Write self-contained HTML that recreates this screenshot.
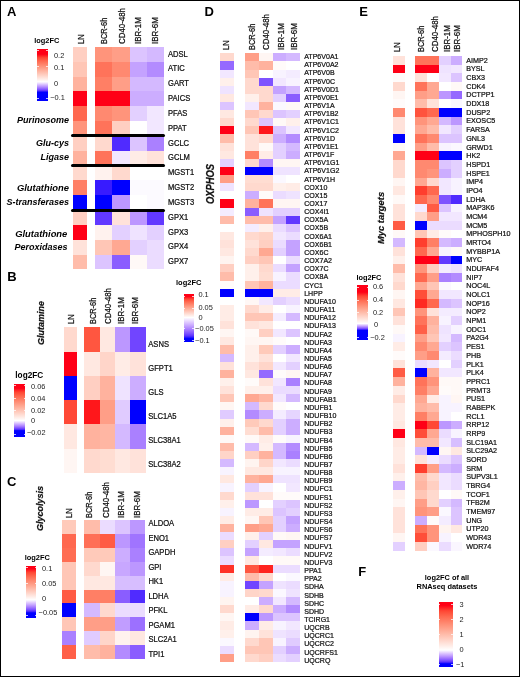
<!DOCTYPE html>
<html><head><meta charset="utf-8"><style>
html,body{margin:0;padding:0;background:#fff;}
body{width:520px;height:677px;position:relative;overflow:hidden;font-family:"Liberation Sans", sans-serif;}
.t{position:absolute;white-space:nowrap;color:#111;-webkit-text-stroke:0.22px #111;}
i{position:absolute;display:block;}
#txt{position:absolute;left:0;top:0;width:520px;height:677px;will-change:transform;}
#frame{position:absolute;left:0;top:0;width:518px;height:675px;border:1px solid #000;}
</style></head><body>
<i style="left:73px;top:47px;width:14px;height:15px;background:#ffcfc2;"></i><i style="left:95px;top:47px;width:17px;height:15px;background:#ff947b;"></i><i style="left:112px;top:47px;width:18px;height:15px;background:#ff9e87;"></i><i style="left:130px;top:47px;width:17px;height:15px;background:#dcc4ff;"></i><i style="left:147px;top:47px;width:17px;height:15px;background:#d4b9ff;"></i><i style="left:73px;top:62px;width:14px;height:15px;background:#ffc6b6;"></i><i style="left:95px;top:62px;width:17px;height:15px;background:#ff735a;"></i><i style="left:112px;top:62px;width:18px;height:15px;background:#ff8970;"></i><i style="left:130px;top:62px;width:17px;height:15px;background:#c4a2ff;"></i><i style="left:147px;top:62px;width:17px;height:15px;background:#b38bff;"></i><i style="left:73px;top:77px;width:14px;height:14px;background:#ffb29e;"></i><i style="left:95px;top:77px;width:17px;height:14px;background:#ff7f65;"></i><i style="left:112px;top:77px;width:18px;height:14px;background:#ff9e87;"></i><i style="left:130px;top:77px;width:17px;height:14px;background:#d4b9ff;"></i><i style="left:147px;top:77px;width:17px;height:14px;background:#d4b9ff;"></i><i style="left:73px;top:91px;width:14px;height:15px;background:#ff0016;"></i><i style="left:95px;top:91px;width:17px;height:15px;background:#ff0016;"></i><i style="left:112px;top:91px;width:18px;height:15px;background:#ff0016;"></i><i style="left:130px;top:91px;width:17px;height:15px;background:#ccadff;"></i><i style="left:147px;top:91px;width:17px;height:15px;background:#ccadff;"></i><i style="left:73px;top:106px;width:14px;height:15px;background:#ff684f;"></i><i style="left:95px;top:106px;width:17px;height:15px;background:#ff8970;"></i><i style="left:112px;top:106px;width:18px;height:15px;background:#ff947b;"></i><i style="left:130px;top:106px;width:17px;height:15px;background:#e3d0ff;"></i><i style="left:147px;top:106px;width:17px;height:15px;background:#f2e7ff;"></i><i style="left:73px;top:121px;width:14px;height:15px;background:#ff947b;"></i><i style="left:95px;top:121px;width:17px;height:15px;background:#ff735a;"></i><i style="left:112px;top:121px;width:18px;height:15px;background:#ffcfc2;"></i><i style="left:130px;top:121px;width:17px;height:15px;background:#ffffff;"></i><i style="left:147px;top:121px;width:17px;height:15px;background:#f2e7ff;"></i><i style="left:73px;top:136px;width:14px;height:15px;background:#ffcfc2;"></i><i style="left:95px;top:136px;width:17px;height:15px;background:#ffd9ce;"></i><i style="left:112px;top:136px;width:18px;height:15px;background:#502bff;"></i><i style="left:130px;top:136px;width:17px;height:15px;background:#dcc4ff;"></i><i style="left:147px;top:136px;width:17px;height:15px;background:#aa80ff;"></i><i style="left:73px;top:151px;width:14px;height:15px;background:#ffb29e;"></i><i style="left:95px;top:151px;width:17px;height:15px;background:#ff735a;"></i><i style="left:112px;top:151px;width:18px;height:15px;background:#f2e7ff;"></i><i style="left:130px;top:151px;width:17px;height:15px;background:#ffece6;"></i><i style="left:147px;top:151px;width:17px;height:15px;background:#ffe2da;"></i><i style="left:73px;top:166px;width:14px;height:14px;background:#ffd9ce;"></i><i style="left:95px;top:166px;width:17px;height:14px;background:#fff2ee;"></i><i style="left:112px;top:166px;width:18px;height:14px;background:#ffd9ce;"></i><i style="left:130px;top:166px;width:17px;height:14px;background:#ffffff;"></i><i style="left:147px;top:166px;width:17px;height:14px;background:#ffffff;"></i><i style="left:73px;top:180px;width:14px;height:15px;background:#ff7f65;"></i><i style="left:95px;top:180px;width:17px;height:15px;background:#381bff;"></i><i style="left:112px;top:180px;width:18px;height:15px;background:#0000ff;"></i><i style="left:130px;top:180px;width:17px;height:15px;background:#fcfaff;"></i><i style="left:147px;top:180px;width:17px;height:15px;background:#fcfaff;"></i><i style="left:73px;top:195px;width:14px;height:15px;background:#0000ff;"></i><i style="left:95px;top:195px;width:17px;height:15px;background:#0000ff;"></i><i style="left:112px;top:195px;width:18px;height:15px;background:#bc97ff;"></i><i style="left:130px;top:195px;width:17px;height:15px;background:#ffffff;"></i><i style="left:147px;top:195px;width:17px;height:15px;background:#fcfaff;"></i><i style="left:73px;top:210px;width:14px;height:15px;background:#ffcfc2;"></i><i style="left:95px;top:210px;width:17px;height:15px;background:#6239ff;"></i><i style="left:112px;top:210px;width:18px;height:15px;background:#ffe2da;"></i><i style="left:130px;top:210px;width:17px;height:15px;background:#bc97ff;"></i><i style="left:147px;top:210px;width:17px;height:15px;background:#6239ff;"></i><i style="left:73px;top:225px;width:14px;height:15px;background:#ff0016;"></i><i style="left:95px;top:225px;width:17px;height:15px;background:#fff2ee;"></i><i style="left:112px;top:225px;width:18px;height:15px;background:#e3d0ff;"></i><i style="left:130px;top:225px;width:17px;height:15px;background:#efe3ff;"></i><i style="left:147px;top:225px;width:17px;height:15px;background:#e3d0ff;"></i><i style="left:73px;top:240px;width:14px;height:15px;background:#ffe2da;"></i><i style="left:95px;top:240px;width:17px;height:15px;background:#ffc6b6;"></i><i style="left:112px;top:240px;width:18px;height:15px;background:#ffa892;"></i><i style="left:130px;top:240px;width:17px;height:15px;background:#e3d0ff;"></i><i style="left:147px;top:240px;width:17px;height:15px;background:#ebdcff;"></i><i style="left:73px;top:255px;width:14px;height:14px;background:#ffbcaa;"></i><i style="left:95px;top:255px;width:17px;height:14px;background:#dcc4ff;"></i><i style="left:112px;top:255px;width:18px;height:14px;background:#8a5dff;"></i><i style="left:130px;top:255px;width:17px;height:14px;background:#fff9f7;"></i><i style="left:147px;top:255px;width:17px;height:14px;background:#ebdcff;"></i><i style="left:71px;top:134px;width:94px;height:3px;background:#000;border-radius:1.5px"></i><i style="left:71px;top:164px;width:94px;height:3px;background:#000;border-radius:1.5px"></i><i style="left:71px;top:209px;width:94px;height:3px;background:#000;border-radius:1.5px"></i><i style="left:37.00px;top:49.00px;width:11.00px;height:52.00px;background:linear-gradient(to bottom,#ff0016 0.0%,#ff0016 10.0%,#ff4633 16.6%,#ff684f 23.2%,#ff846b 29.9%,#ff9e87 36.5%,#ffb7a4 43.1%,#ffcfc2 49.8%,#ffe7e0 56.4%,#ffffff 63.0%,#eee2ff 65.5%,#dcc4ff 68.0%,#c8a8ff 70.5%,#b38bff 73.0%,#9b6fff 75.5%,#7e52ff 78.0%,#5932ff 80.5%,#0000ff 83.0%,#0000ff 100.0%)"></i><i style="left:37.00px;top:50.00px;width:1.6px;height:1px;background:rgba(255,255,255,.75)"></i><i style="left:46.40px;top:50.00px;width:1.6px;height:1px;background:rgba(255,255,255,.75)"></i><i style="left:37.00px;top:66.10px;width:1.6px;height:1px;background:rgba(255,255,255,.75)"></i><i style="left:46.40px;top:66.10px;width:1.6px;height:1px;background:rgba(255,255,255,.75)"></i><i style="left:37.00px;top:98.20px;width:1.6px;height:1px;background:rgba(255,255,255,.75)"></i><i style="left:46.40px;top:98.20px;width:1.6px;height:1px;background:rgba(255,255,255,.75)"></i><i style="left:64px;top:327px;width:13px;height:25px;background:#ffd9ce;"></i><i style="left:84px;top:327px;width:16px;height:25px;background:#ff5640;"></i><i style="left:100px;top:327px;width:15px;height:25px;background:#ffe8e1;"></i><i style="left:115px;top:327px;width:15px;height:25px;background:#bc97ff;"></i><i style="left:130px;top:327px;width:16px;height:25px;background:#7145ff;"></i><i style="left:64px;top:352px;width:13px;height:24px;background:#ff0016;"></i><i style="left:84px;top:352px;width:16px;height:24px;background:#ffe8e1;"></i><i style="left:100px;top:352px;width:15px;height:24px;background:#ffd5c9;"></i><i style="left:115px;top:352px;width:15px;height:24px;background:#ffece6;"></i><i style="left:130px;top:352px;width:16px;height:24px;background:#ffe2da;"></i><i style="left:64px;top:376px;width:13px;height:24px;background:#0000ff;"></i><i style="left:84px;top:376px;width:16px;height:24px;background:#ffcfc2;"></i><i style="left:100px;top:376px;width:15px;height:24px;background:#ffb29e;"></i><i style="left:115px;top:376px;width:15px;height:24px;background:#efe3ff;"></i><i style="left:130px;top:376px;width:16px;height:24px;background:#ccadff;"></i><i style="left:64px;top:400px;width:13px;height:24px;background:#ff4835;"></i><i style="left:84px;top:400px;width:16px;height:24px;background:#ff171b;"></i><i style="left:100px;top:400px;width:15px;height:24px;background:#ff9e87;"></i><i style="left:115px;top:400px;width:15px;height:24px;background:#e0cbff;"></i><i style="left:130px;top:400px;width:16px;height:24px;background:#0000ff;"></i><i style="left:64px;top:424px;width:13px;height:25px;background:#ffe8e1;"></i><i style="left:84px;top:424px;width:16px;height:25px;background:#ffb29e;"></i><i style="left:100px;top:424px;width:15px;height:25px;background:#ffb6a3;"></i><i style="left:115px;top:424px;width:15px;height:25px;background:#d4b9ff;"></i><i style="left:130px;top:424px;width:16px;height:25px;background:#aa80ff;"></i><i style="left:64px;top:449px;width:13px;height:24px;background:#fff6f3;"></i><i style="left:84px;top:449px;width:16px;height:24px;background:#ffd9ce;"></i><i style="left:100px;top:449px;width:15px;height:24px;background:#ffddd2;"></i><i style="left:115px;top:449px;width:15px;height:24px;background:#ffe8e1;"></i><i style="left:130px;top:449px;width:16px;height:24px;background:#ffe2da;"></i><i style="left:14.40px;top:384.10px;width:10.80px;height:52.50px;background:linear-gradient(to bottom,#ff0016 0.0%,#ff0016 8.0%,#ff4633 15.6%,#ff684f 23.2%,#ff846b 30.9%,#ff9e87 38.5%,#ffb7a4 46.1%,#ffcfc2 53.8%,#ffe7e0 61.4%,#ffffff 69.0%,#eee2ff 71.4%,#dcc4ff 73.8%,#c8a8ff 76.1%,#b38bff 78.5%,#9b6fff 80.9%,#7e52ff 83.2%,#5932ff 85.6%,#0000ff 88.0%,#0000ff 100.0%)"></i><i style="left:14.40px;top:385.40px;width:1.6px;height:1px;background:rgba(255,255,255,.75)"></i><i style="left:23.60px;top:385.40px;width:1.6px;height:1px;background:rgba(255,255,255,.75)"></i><i style="left:14.40px;top:397.50px;width:1.6px;height:1px;background:rgba(255,255,255,.75)"></i><i style="left:23.60px;top:397.50px;width:1.6px;height:1px;background:rgba(255,255,255,.75)"></i><i style="left:14.40px;top:409.50px;width:1.6px;height:1px;background:rgba(255,255,255,.75)"></i><i style="left:23.60px;top:409.50px;width:1.6px;height:1px;background:rgba(255,255,255,.75)"></i><i style="left:14.40px;top:433.80px;width:1.6px;height:1px;background:rgba(255,255,255,.75)"></i><i style="left:23.60px;top:433.80px;width:1.6px;height:1px;background:rgba(255,255,255,.75)"></i><i style="left:62px;top:520px;width:14px;height:14px;background:#ffcaba;"></i><i style="left:84px;top:520px;width:16px;height:14px;background:#ffbcaa;"></i><i style="left:100px;top:520px;width:15px;height:14px;background:#ebdcff;"></i><i style="left:115px;top:520px;width:15px;height:14px;background:#dcc4ff;"></i><i style="left:130px;top:520px;width:15px;height:14px;background:#bc97ff;"></i><i style="left:62px;top:534px;width:14px;height:14px;background:#ff684f;"></i><i style="left:84px;top:534px;width:16px;height:14px;background:#ff6f56;"></i><i style="left:100px;top:534px;width:15px;height:14px;background:#ff5b44;"></i><i style="left:115px;top:534px;width:15px;height:14px;background:#bc97ff;"></i><i style="left:130px;top:534px;width:15px;height:14px;background:#a074ff;"></i><i style="left:62px;top:548px;width:14px;height:14px;background:#ff6d53;"></i><i style="left:84px;top:548px;width:16px;height:14px;background:#ffcaba;"></i><i style="left:100px;top:548px;width:15px;height:14px;background:#ffcaba;"></i><i style="left:115px;top:548px;width:15px;height:14px;background:#ccadff;"></i><i style="left:130px;top:548px;width:15px;height:14px;background:#aa80ff;"></i><i style="left:62px;top:562px;width:14px;height:14px;background:#ffc6b6;"></i><i style="left:84px;top:562px;width:16px;height:14px;background:#ffd9ce;"></i><i style="left:100px;top:562px;width:15px;height:14px;background:#fff6f3;"></i><i style="left:115px;top:562px;width:15px;height:14px;background:#c8a7ff;"></i><i style="left:130px;top:562px;width:15px;height:14px;background:#bc97ff;"></i><i style="left:62px;top:576px;width:14px;height:14px;background:#ffc6b6;"></i><i style="left:84px;top:576px;width:16px;height:14px;background:#ffe8e1;"></i><i style="left:100px;top:576px;width:15px;height:14px;background:#ffe8e1;"></i><i style="left:115px;top:576px;width:15px;height:14px;background:#d7beff;"></i><i style="left:130px;top:576px;width:15px;height:14px;background:#d7beff;"></i><i style="left:62px;top:590px;width:14px;height:13px;background:#ff5b44;"></i><i style="left:84px;top:590px;width:16px;height:13px;background:#ff7f65;"></i><i style="left:100px;top:590px;width:15px;height:13px;background:#ff7f65;"></i><i style="left:115px;top:590px;width:15px;height:13px;background:#8a5dff;"></i><i style="left:130px;top:590px;width:15px;height:13px;background:#502bff;"></i><i style="left:62px;top:603px;width:14px;height:14px;background:#0000ff;"></i><i style="left:84px;top:603px;width:16px;height:14px;background:#d4b9ff;"></i><i style="left:100px;top:603px;width:15px;height:14px;background:#ffd9ce;"></i><i style="left:115px;top:603px;width:15px;height:14px;background:#ebdcff;"></i><i style="left:130px;top:603px;width:15px;height:14px;background:#ebdcff;"></i><i style="left:62px;top:617px;width:14px;height:14px;background:#ffc6b6;"></i><i style="left:84px;top:617px;width:16px;height:14px;background:#ff9e87;"></i><i style="left:100px;top:617px;width:15px;height:14px;background:#ff9e87;"></i><i style="left:115px;top:617px;width:15px;height:14px;background:#c19dff;"></i><i style="left:130px;top:617px;width:15px;height:14px;background:#9c70ff;"></i><i style="left:62px;top:631px;width:14px;height:14px;background:#aa80ff;"></i><i style="left:84px;top:631px;width:16px;height:14px;background:#e0cbff;"></i><i style="left:100px;top:631px;width:15px;height:14px;background:#ffd5c9;"></i><i style="left:115px;top:631px;width:15px;height:14px;background:#fff2ee;"></i><i style="left:130px;top:631px;width:15px;height:14px;background:#ffe8e1;"></i><i style="left:62px;top:645px;width:14px;height:14px;background:#ff6048;"></i><i style="left:84px;top:645px;width:16px;height:14px;background:#ffbcaa;"></i><i style="left:100px;top:645px;width:15px;height:14px;background:#ffb29e;"></i><i style="left:115px;top:645px;width:15px;height:14px;background:#b38bff;"></i><i style="left:130px;top:645px;width:15px;height:14px;background:#8a5dff;"></i><i style="left:26.20px;top:565.50px;width:10.10px;height:52.20px;background:linear-gradient(to bottom,#ff0016 0.0%,#ff0016 5.0%,#ff4633 12.5%,#ff684f 20.0%,#ff846b 27.5%,#ff9e87 35.0%,#ffb7a4 42.5%,#ffcfc2 50.0%,#ffe7e0 57.5%,#ffffff 65.0%,#eee2ff 68.1%,#dcc4ff 71.2%,#c8a8ff 74.4%,#b38bff 77.5%,#9b6fff 80.6%,#7e52ff 83.8%,#5932ff 86.9%,#0000ff 90.0%,#0000ff 100.0%)"></i><i style="left:26.20px;top:566.70px;width:1.6px;height:1px;background:rgba(255,255,255,.75)"></i><i style="left:34.70px;top:566.70px;width:1.6px;height:1px;background:rgba(255,255,255,.75)"></i><i style="left:26.20px;top:582.90px;width:1.6px;height:1px;background:rgba(255,255,255,.75)"></i><i style="left:34.70px;top:582.90px;width:1.6px;height:1px;background:rgba(255,255,255,.75)"></i><i style="left:26.20px;top:614.50px;width:1.6px;height:1px;background:rgba(255,255,255,.75)"></i><i style="left:34.70px;top:614.50px;width:1.6px;height:1px;background:rgba(255,255,255,.75)"></i><i style="left:220px;top:53px;width:14px;height:8px;background:#ffd9ce;"></i><i style="left:245px;top:53px;width:14px;height:8px;background:#ff9e87;"></i><i style="left:259px;top:53px;width:14px;height:8px;background:#fff6f3;"></i><i style="left:273px;top:53px;width:13px;height:8px;background:#ccadff;"></i><i style="left:286px;top:53px;width:14px;height:8px;background:#d4b9ff;"></i><i style="left:220px;top:61px;width:14px;height:9px;background:#9569ff;"></i><i style="left:245px;top:61px;width:14px;height:9px;background:#ffbcaa;"></i><i style="left:259px;top:61px;width:14px;height:9px;background:#ffb29e;"></i><i style="left:273px;top:61px;width:13px;height:9px;background:#fffbfa;"></i><i style="left:286px;top:61px;width:14px;height:9px;background:#ffffff;"></i><i style="left:220px;top:70px;width:14px;height:8px;background:#f2e7ff;"></i><i style="left:245px;top:70px;width:14px;height:8px;background:#ffc6b6;"></i><i style="left:259px;top:70px;width:14px;height:8px;background:#ffffff;"></i><i style="left:273px;top:70px;width:13px;height:8px;background:#f8f3ff;"></i><i style="left:286px;top:70px;width:14px;height:8px;background:#f4ecff;"></i><i style="left:220px;top:78px;width:14px;height:8px;background:#fff0eb;"></i><i style="left:245px;top:78px;width:14px;height:8px;background:#ffd9ce;"></i><i style="left:259px;top:78px;width:14px;height:8px;background:#7e52ff;"></i><i style="left:273px;top:78px;width:13px;height:8px;background:#f2e7ff;"></i><i style="left:286px;top:78px;width:14px;height:8px;background:#f8f3ff;"></i><i style="left:220px;top:86px;width:14px;height:8px;background:#efe3ff;"></i><i style="left:245px;top:86px;width:14px;height:8px;background:#ffd9ce;"></i><i style="left:259px;top:86px;width:14px;height:8px;background:#ffd9ce;"></i><i style="left:273px;top:86px;width:13px;height:8px;background:#c4a2ff;"></i><i style="left:286px;top:86px;width:14px;height:8px;background:#d4b9ff;"></i><i style="left:220px;top:94px;width:14px;height:8px;background:#ffe8e1;"></i><i style="left:245px;top:94px;width:14px;height:8px;background:#fff0eb;"></i><i style="left:259px;top:94px;width:14px;height:8px;background:#ffd9ce;"></i><i style="left:273px;top:94px;width:13px;height:8px;background:#e3d0ff;"></i><i style="left:286px;top:94px;width:14px;height:8px;background:#8a5dff;"></i><i style="left:220px;top:102px;width:14px;height:8px;background:#dcc4ff;"></i><i style="left:245px;top:102px;width:14px;height:8px;background:#f2e7ff;"></i><i style="left:259px;top:102px;width:14px;height:8px;background:#ffb29e;"></i><i style="left:273px;top:102px;width:13px;height:8px;background:#fbf8ff;"></i><i style="left:286px;top:102px;width:14px;height:8px;background:#fff9f7;"></i><i style="left:220px;top:110px;width:14px;height:8px;background:#ffe8e1;"></i><i style="left:245px;top:110px;width:14px;height:8px;background:#ffc6b6;"></i><i style="left:259px;top:110px;width:14px;height:8px;background:#ffd9ce;"></i><i style="left:273px;top:110px;width:13px;height:8px;background:#dcc4ff;"></i><i style="left:286px;top:110px;width:14px;height:8px;background:#e3d0ff;"></i><i style="left:220px;top:118px;width:14px;height:8px;background:#ffd9ce;"></i><i style="left:245px;top:118px;width:14px;height:8px;background:#ffd9ce;"></i><i style="left:259px;top:118px;width:14px;height:8px;background:#dcc4ff;"></i><i style="left:273px;top:118px;width:13px;height:8px;background:#fff9f7;"></i><i style="left:286px;top:118px;width:14px;height:8px;background:#fff0eb;"></i><i style="left:220px;top:126px;width:14px;height:8px;background:#ff0016;"></i><i style="left:245px;top:126px;width:14px;height:8px;background:#ffc6b6;"></i><i style="left:259px;top:126px;width:14px;height:8px;background:#ff171b;"></i><i style="left:273px;top:126px;width:13px;height:8px;background:#dcc4ff;"></i><i style="left:286px;top:126px;width:14px;height:8px;background:#f2e7ff;"></i><i style="left:220px;top:134px;width:14px;height:9px;background:#ffbcaa;"></i><i style="left:245px;top:134px;width:14px;height:9px;background:#ffe2da;"></i><i style="left:259px;top:134px;width:14px;height:9px;background:#ffd9ce;"></i><i style="left:273px;top:134px;width:13px;height:9px;background:#ccadff;"></i><i style="left:286px;top:134px;width:14px;height:9px;background:#b38bff;"></i><i style="left:220px;top:143px;width:14px;height:8px;background:#ffe2da;"></i><i style="left:245px;top:143px;width:14px;height:8px;background:#ffe2da;"></i><i style="left:259px;top:143px;width:14px;height:8px;background:#fff9f7;"></i><i style="left:273px;top:143px;width:13px;height:8px;background:#e3d0ff;"></i><i style="left:286px;top:143px;width:14px;height:8px;background:#d4b9ff;"></i><i style="left:220px;top:151px;width:14px;height:8px;background:#ffe8e1;"></i><i style="left:245px;top:151px;width:14px;height:8px;background:#ff7f65;"></i><i style="left:259px;top:151px;width:14px;height:8px;background:#ffece6;"></i><i style="left:273px;top:151px;width:13px;height:8px;background:#e3d0ff;"></i><i style="left:286px;top:151px;width:14px;height:8px;background:#ccadff;"></i><i style="left:220px;top:159px;width:14px;height:8px;background:#e3d0ff;"></i><i style="left:245px;top:159px;width:14px;height:8px;background:#ffd9ce;"></i><i style="left:259px;top:159px;width:14px;height:8px;background:#b38bff;"></i><i style="left:273px;top:159px;width:13px;height:8px;background:#fff6f3;"></i><i style="left:286px;top:159px;width:14px;height:8px;background:#fff6f3;"></i><i style="left:220px;top:167px;width:14px;height:8px;background:#ff0016;"></i><i style="left:245px;top:167px;width:14px;height:8px;background:#0000ff;"></i><i style="left:259px;top:167px;width:14px;height:8px;background:#0000ff;"></i><i style="left:273px;top:167px;width:13px;height:8px;background:#efe3ff;"></i><i style="left:286px;top:167px;width:14px;height:8px;background:#efe3ff;"></i><i style="left:220px;top:175px;width:14px;height:8px;background:#ff9e87;"></i><i style="left:245px;top:175px;width:14px;height:8px;background:#ffddd2;"></i><i style="left:259px;top:175px;width:14px;height:8px;background:#ffddd2;"></i><i style="left:273px;top:175px;width:13px;height:8px;background:#fbf8ff;"></i><i style="left:286px;top:175px;width:14px;height:8px;background:#ffffff;"></i><i style="left:220px;top:183px;width:14px;height:8px;background:#efe3ff;"></i><i style="left:245px;top:183px;width:14px;height:8px;background:#ffd9ce;"></i><i style="left:259px;top:183px;width:14px;height:8px;background:#ffd9ce;"></i><i style="left:273px;top:183px;width:13px;height:8px;background:#fff0eb;"></i><i style="left:286px;top:183px;width:14px;height:8px;background:#ffece6;"></i><i style="left:220px;top:191px;width:14px;height:8px;background:#ffffff;"></i><i style="left:245px;top:191px;width:14px;height:8px;background:#ccadff;"></i><i style="left:259px;top:191px;width:14px;height:8px;background:#fffbfa;"></i><i style="left:273px;top:191px;width:13px;height:8px;background:#ebdcff;"></i><i style="left:286px;top:191px;width:14px;height:8px;background:#efe3ff;"></i><i style="left:220px;top:199px;width:14px;height:9px;background:#ff0016;"></i><i style="left:245px;top:199px;width:14px;height:9px;background:#ffb29e;"></i><i style="left:259px;top:199px;width:14px;height:9px;background:#ff735a;"></i><i style="left:273px;top:199px;width:13px;height:9px;background:#fff6f3;"></i><i style="left:286px;top:199px;width:14px;height:9px;background:#fff6f3;"></i><i style="left:220px;top:208px;width:14px;height:8px;background:#f4ecff;"></i><i style="left:245px;top:208px;width:14px;height:8px;background:#8a5dff;"></i><i style="left:259px;top:208px;width:14px;height:8px;background:#efe3ff;"></i><i style="left:273px;top:208px;width:13px;height:8px;background:#e3d0ff;"></i><i style="left:286px;top:208px;width:14px;height:8px;background:#e3d0ff;"></i><i style="left:220px;top:216px;width:14px;height:8px;background:#ffbcaa;"></i><i style="left:245px;top:216px;width:14px;height:8px;background:#ffbcaa;"></i><i style="left:259px;top:216px;width:14px;height:8px;background:#ffbcaa;"></i><i style="left:273px;top:216px;width:13px;height:8px;background:#c4a2ff;"></i><i style="left:286px;top:216px;width:14px;height:8px;background:#6239ff;"></i><i style="left:220px;top:224px;width:14px;height:8px;background:#ffffff;"></i><i style="left:245px;top:224px;width:14px;height:8px;background:#f4ecff;"></i><i style="left:259px;top:224px;width:14px;height:8px;background:#fff0eb;"></i><i style="left:273px;top:224px;width:13px;height:8px;background:#ebdcff;"></i><i style="left:286px;top:224px;width:14px;height:8px;background:#dcc4ff;"></i><i style="left:220px;top:232px;width:14px;height:8px;background:#ffe8e1;"></i><i style="left:245px;top:232px;width:14px;height:8px;background:#ffd9ce;"></i><i style="left:259px;top:232px;width:14px;height:8px;background:#ffd3c6;"></i><i style="left:273px;top:232px;width:13px;height:8px;background:#f2e7ff;"></i><i style="left:286px;top:232px;width:14px;height:8px;background:#ebdcff;"></i><i style="left:220px;top:240px;width:14px;height:8px;background:#ffe2da;"></i><i style="left:245px;top:240px;width:14px;height:8px;background:#ffe2da;"></i><i style="left:259px;top:240px;width:14px;height:8px;background:#ffcfc2;"></i><i style="left:273px;top:240px;width:13px;height:8px;background:#ebdcff;"></i><i style="left:286px;top:240px;width:14px;height:8px;background:#c4a2ff;"></i><i style="left:220px;top:248px;width:14px;height:8px;background:#ffe8e1;"></i><i style="left:245px;top:248px;width:14px;height:8px;background:#ffd9ce;"></i><i style="left:259px;top:248px;width:14px;height:8px;background:#ffa892;"></i><i style="left:273px;top:248px;width:13px;height:8px;background:#e3d0ff;"></i><i style="left:286px;top:248px;width:14px;height:8px;background:#c4a2ff;"></i><i style="left:220px;top:256px;width:14px;height:8px;background:#fff4f0;"></i><i style="left:245px;top:256px;width:14px;height:8px;background:#ffcfc2;"></i><i style="left:259px;top:256px;width:14px;height:8px;background:#ffc6b6;"></i><i style="left:273px;top:256px;width:13px;height:8px;background:#ffffff;"></i><i style="left:286px;top:256px;width:14px;height:8px;background:#ebdcff;"></i><i style="left:220px;top:264px;width:14px;height:8px;background:#ffcfc2;"></i><i style="left:245px;top:264px;width:14px;height:8px;background:#fff0eb;"></i><i style="left:259px;top:264px;width:14px;height:8px;background:#ffd9ce;"></i><i style="left:273px;top:264px;width:13px;height:8px;background:#ebdcff;"></i><i style="left:286px;top:264px;width:14px;height:8px;background:#c4a2ff;"></i><i style="left:220px;top:272px;width:14px;height:9px;background:#ffbcaa;"></i><i style="left:245px;top:272px;width:14px;height:9px;background:#fff0eb;"></i><i style="left:259px;top:272px;width:14px;height:9px;background:#ffddd2;"></i><i style="left:273px;top:272px;width:13px;height:9px;background:#f8f3ff;"></i><i style="left:286px;top:272px;width:14px;height:9px;background:#ebdcff;"></i><i style="left:220px;top:281px;width:14px;height:8px;background:#fffbfa;"></i><i style="left:245px;top:281px;width:14px;height:8px;background:#ffc6b6;"></i><i style="left:259px;top:281px;width:14px;height:8px;background:#ffb29e;"></i><i style="left:273px;top:281px;width:13px;height:8px;background:#ebdcff;"></i><i style="left:286px;top:281px;width:14px;height:8px;background:#ebdcff;"></i><i style="left:220px;top:289px;width:14px;height:8px;background:#0000ff;"></i><i style="left:245px;top:289px;width:14px;height:8px;background:#0000ff;"></i><i style="left:259px;top:289px;width:14px;height:8px;background:#0000ff;"></i><i style="left:273px;top:289px;width:13px;height:8px;background:#ffece6;"></i><i style="left:286px;top:289px;width:14px;height:8px;background:#ffece6;"></i><i style="left:220px;top:297px;width:14px;height:8px;background:#ffffff;"></i><i style="left:245px;top:297px;width:14px;height:8px;background:#fff7f5;"></i><i style="left:259px;top:297px;width:14px;height:8px;background:#f2e7ff;"></i><i style="left:273px;top:297px;width:13px;height:8px;background:#e3d0ff;"></i><i style="left:286px;top:297px;width:14px;height:8px;background:#ebdcff;"></i><i style="left:220px;top:305px;width:14px;height:8px;background:#ffece6;"></i><i style="left:245px;top:305px;width:14px;height:8px;background:#ffd9ce;"></i><i style="left:259px;top:305px;width:14px;height:8px;background:#ffece6;"></i><i style="left:273px;top:305px;width:13px;height:8px;background:#ffffff;"></i><i style="left:286px;top:305px;width:14px;height:8px;background:#f8f3ff;"></i><i style="left:220px;top:313px;width:14px;height:8px;background:#ffece6;"></i><i style="left:245px;top:313px;width:14px;height:8px;background:#ffc6b6;"></i><i style="left:259px;top:313px;width:14px;height:8px;background:#ffc6b6;"></i><i style="left:273px;top:313px;width:13px;height:8px;background:#f4ecff;"></i><i style="left:286px;top:313px;width:14px;height:8px;background:#d4b9ff;"></i><i style="left:220px;top:321px;width:14px;height:8px;background:#ffe2da;"></i><i style="left:245px;top:321px;width:14px;height:8px;background:#ffe2da;"></i><i style="left:259px;top:321px;width:14px;height:8px;background:#ffe8e1;"></i><i style="left:273px;top:321px;width:13px;height:8px;background:#ffffff;"></i><i style="left:286px;top:321px;width:14px;height:8px;background:#ffffff;"></i><i style="left:220px;top:329px;width:14px;height:8px;background:#fff6f3;"></i><i style="left:245px;top:329px;width:14px;height:8px;background:#fff9f7;"></i><i style="left:259px;top:329px;width:14px;height:8px;background:#ffcfc2;"></i><i style="left:273px;top:329px;width:13px;height:8px;background:#f2e7ff;"></i><i style="left:286px;top:329px;width:14px;height:8px;background:#dcc4ff;"></i><i style="left:220px;top:337px;width:14px;height:8px;background:#ffe8e1;"></i><i style="left:245px;top:337px;width:14px;height:8px;background:#fff6f3;"></i><i style="left:259px;top:337px;width:14px;height:8px;background:#fff6f3;"></i><i style="left:273px;top:337px;width:13px;height:8px;background:#fffbfa;"></i><i style="left:286px;top:337px;width:14px;height:8px;background:#ffffff;"></i><i style="left:220px;top:345px;width:14px;height:9px;background:#ffbcaa;"></i><i style="left:245px;top:345px;width:14px;height:9px;background:#fff0eb;"></i><i style="left:259px;top:345px;width:14px;height:9px;background:#ffcaba;"></i><i style="left:273px;top:345px;width:13px;height:9px;background:#e3d0ff;"></i><i style="left:286px;top:345px;width:14px;height:9px;background:#ccadff;"></i><i style="left:220px;top:354px;width:14px;height:8px;background:#d4b9ff;"></i><i style="left:245px;top:354px;width:14px;height:8px;background:#fff0eb;"></i><i style="left:259px;top:354px;width:14px;height:8px;background:#ffe2da;"></i><i style="left:273px;top:354px;width:13px;height:8px;background:#ffffff;"></i><i style="left:286px;top:354px;width:14px;height:8px;background:#f2e7ff;"></i><i style="left:220px;top:362px;width:14px;height:8px;background:#ffe2da;"></i><i style="left:245px;top:362px;width:14px;height:8px;background:#ffe2da;"></i><i style="left:259px;top:362px;width:14px;height:8px;background:#ffd5c9;"></i><i style="left:273px;top:362px;width:13px;height:8px;background:#f2e7ff;"></i><i style="left:286px;top:362px;width:14px;height:8px;background:#e3d0ff;"></i><i style="left:220px;top:370px;width:14px;height:8px;background:#ffb29e;"></i><i style="left:245px;top:370px;width:14px;height:8px;background:#ffe8e1;"></i><i style="left:259px;top:370px;width:14px;height:8px;background:#9569ff;"></i><i style="left:273px;top:370px;width:13px;height:8px;background:#fffbfa;"></i><i style="left:286px;top:370px;width:14px;height:8px;background:#fff6f3;"></i><i style="left:220px;top:378px;width:14px;height:8px;background:#fff0eb;"></i><i style="left:245px;top:378px;width:14px;height:8px;background:#fffbfa;"></i><i style="left:259px;top:378px;width:14px;height:8px;background:#ffe2da;"></i><i style="left:273px;top:378px;width:13px;height:8px;background:#f2e7ff;"></i><i style="left:286px;top:378px;width:14px;height:8px;background:#aa80ff;"></i><i style="left:220px;top:386px;width:14px;height:8px;background:#ffe2da;"></i><i style="left:245px;top:386px;width:14px;height:8px;background:#fff0eb;"></i><i style="left:259px;top:386px;width:14px;height:8px;background:#fff0eb;"></i><i style="left:273px;top:386px;width:13px;height:8px;background:#ebdcff;"></i><i style="left:286px;top:386px;width:14px;height:8px;background:#ebdcff;"></i><i style="left:220px;top:394px;width:14px;height:8px;background:#ffc6b6;"></i><i style="left:245px;top:394px;width:14px;height:8px;background:#ffa892;"></i><i style="left:259px;top:394px;width:14px;height:8px;background:#ffb6a3;"></i><i style="left:273px;top:394px;width:13px;height:8px;background:#f2e7ff;"></i><i style="left:286px;top:394px;width:14px;height:8px;background:#d4b9ff;"></i><i style="left:220px;top:402px;width:14px;height:8px;background:#fff6f3;"></i><i style="left:245px;top:402px;width:14px;height:8px;background:#d4b9ff;"></i><i style="left:259px;top:402px;width:14px;height:8px;background:#ffd9ce;"></i><i style="left:273px;top:402px;width:13px;height:8px;background:#fffbfa;"></i><i style="left:286px;top:402px;width:14px;height:8px;background:#ffffff;"></i><i style="left:220px;top:410px;width:14px;height:9px;background:#e0cbff;"></i><i style="left:245px;top:410px;width:14px;height:9px;background:#b38bff;"></i><i style="left:259px;top:410px;width:14px;height:9px;background:#ccadff;"></i><i style="left:273px;top:410px;width:13px;height:9px;background:#f4ecff;"></i><i style="left:286px;top:410px;width:14px;height:9px;background:#e6d5ff;"></i><i style="left:220px;top:419px;width:14px;height:8px;background:#fff0eb;"></i><i style="left:245px;top:419px;width:14px;height:8px;background:#ffcaba;"></i><i style="left:259px;top:419px;width:14px;height:8px;background:#ffd9ce;"></i><i style="left:273px;top:419px;width:13px;height:8px;background:#e3d0ff;"></i><i style="left:286px;top:419px;width:14px;height:8px;background:#ccadff;"></i><i style="left:220px;top:427px;width:14px;height:8px;background:#ffb29e;"></i><i style="left:245px;top:427px;width:14px;height:8px;background:#ffddd2;"></i><i style="left:259px;top:427px;width:14px;height:8px;background:#ffbcaa;"></i><i style="left:273px;top:427px;width:13px;height:8px;background:#e3d0ff;"></i><i style="left:286px;top:427px;width:14px;height:8px;background:#ccadff;"></i><i style="left:220px;top:435px;width:14px;height:8px;background:#fff9f7;"></i><i style="left:245px;top:435px;width:14px;height:8px;background:#fff9f7;"></i><i style="left:259px;top:435px;width:14px;height:8px;background:#ffece6;"></i><i style="left:273px;top:435px;width:13px;height:8px;background:#fffbfa;"></i><i style="left:286px;top:435px;width:14px;height:8px;background:#f8f3ff;"></i><i style="left:220px;top:443px;width:14px;height:8px;background:#ffbcaa;"></i><i style="left:245px;top:443px;width:14px;height:8px;background:#d4b9ff;"></i><i style="left:259px;top:443px;width:14px;height:8px;background:#fff0eb;"></i><i style="left:273px;top:443px;width:13px;height:8px;background:#d4b9ff;"></i><i style="left:286px;top:443px;width:14px;height:8px;background:#b38bff;"></i><i style="left:220px;top:451px;width:14px;height:8px;background:#ffd5c9;"></i><i style="left:245px;top:451px;width:14px;height:8px;background:#ffcfc2;"></i><i style="left:259px;top:451px;width:14px;height:8px;background:#ffb29e;"></i><i style="left:273px;top:451px;width:13px;height:8px;background:#d4b9ff;"></i><i style="left:286px;top:451px;width:14px;height:8px;background:#aa80ff;"></i><i style="left:220px;top:459px;width:14px;height:8px;background:#d4b9ff;"></i><i style="left:245px;top:459px;width:14px;height:8px;background:#fff4f0;"></i><i style="left:259px;top:459px;width:14px;height:8px;background:#ffd5c9;"></i><i style="left:273px;top:459px;width:13px;height:8px;background:#f2e7ff;"></i><i style="left:286px;top:459px;width:14px;height:8px;background:#ebdcff;"></i><i style="left:220px;top:467px;width:14px;height:8px;background:#f8f3ff;"></i><i style="left:245px;top:467px;width:14px;height:8px;background:#ffe8e1;"></i><i style="left:259px;top:467px;width:14px;height:8px;background:#ffe8e1;"></i><i style="left:273px;top:467px;width:13px;height:8px;background:#f8f3ff;"></i><i style="left:286px;top:467px;width:14px;height:8px;background:#f8f3ff;"></i><i style="left:220px;top:475px;width:14px;height:8px;background:#ffe8e1;"></i><i style="left:245px;top:475px;width:14px;height:8px;background:#ffb29e;"></i><i style="left:259px;top:475px;width:14px;height:8px;background:#ffa892;"></i><i style="left:273px;top:475px;width:13px;height:8px;background:#efe3ff;"></i><i style="left:286px;top:475px;width:14px;height:8px;background:#efe3ff;"></i><i style="left:220px;top:483px;width:14px;height:9px;background:#f8f3ff;"></i><i style="left:245px;top:483px;width:14px;height:9px;background:#e3d0ff;"></i><i style="left:259px;top:483px;width:14px;height:9px;background:#f8f3ff;"></i><i style="left:273px;top:483px;width:13px;height:9px;background:#ffffff;"></i><i style="left:286px;top:483px;width:14px;height:9px;background:#f2e7ff;"></i><i style="left:220px;top:492px;width:14px;height:8px;background:#ffd9ce;"></i><i style="left:245px;top:492px;width:14px;height:8px;background:#ffe2da;"></i><i style="left:259px;top:492px;width:14px;height:8px;background:#ffe2da;"></i><i style="left:273px;top:492px;width:13px;height:8px;background:#fffbfa;"></i><i style="left:286px;top:492px;width:14px;height:8px;background:#fffbfa;"></i><i style="left:220px;top:500px;width:14px;height:8px;background:#fff0eb;"></i><i style="left:245px;top:500px;width:14px;height:8px;background:#bc97ff;"></i><i style="left:259px;top:500px;width:14px;height:8px;background:#ffffff;"></i><i style="left:273px;top:500px;width:13px;height:8px;background:#e3d0ff;"></i><i style="left:286px;top:500px;width:14px;height:8px;background:#dcc4ff;"></i><i style="left:220px;top:508px;width:14px;height:8px;background:#f8f3ff;"></i><i style="left:245px;top:508px;width:14px;height:8px;background:#ffece6;"></i><i style="left:259px;top:508px;width:14px;height:8px;background:#ffece6;"></i><i style="left:273px;top:508px;width:13px;height:8px;background:#dcc4ff;"></i><i style="left:286px;top:508px;width:14px;height:8px;background:#e3d0ff;"></i><i style="left:220px;top:516px;width:14px;height:8px;background:#ffece6;"></i><i style="left:245px;top:516px;width:14px;height:8px;background:#fff6f3;"></i><i style="left:259px;top:516px;width:14px;height:8px;background:#ffc6b6;"></i><i style="left:273px;top:516px;width:13px;height:8px;background:#e3d0ff;"></i><i style="left:286px;top:516px;width:14px;height:8px;background:#c4a2ff;"></i><i style="left:220px;top:524px;width:14px;height:8px;background:#ffb29e;"></i><i style="left:245px;top:524px;width:14px;height:8px;background:#ff9e87;"></i><i style="left:259px;top:524px;width:14px;height:8px;background:#ffa892;"></i><i style="left:273px;top:524px;width:13px;height:8px;background:#e3d0ff;"></i><i style="left:286px;top:524px;width:14px;height:8px;background:#ccadff;"></i><i style="left:220px;top:532px;width:14px;height:8px;background:#ebdcff;"></i><i style="left:245px;top:532px;width:14px;height:8px;background:#fff0eb;"></i><i style="left:259px;top:532px;width:14px;height:8px;background:#e3d0ff;"></i><i style="left:273px;top:532px;width:13px;height:8px;background:#fff9f7;"></i><i style="left:286px;top:532px;width:14px;height:8px;background:#fff6f3;"></i><i style="left:220px;top:540px;width:14px;height:8px;background:#ffcfc2;"></i><i style="left:245px;top:540px;width:14px;height:8px;background:#e3d0ff;"></i><i style="left:259px;top:540px;width:14px;height:8px;background:#ffe8e1;"></i><i style="left:273px;top:540px;width:13px;height:8px;background:#c4a2ff;"></i><i style="left:286px;top:540px;width:14px;height:8px;background:#c4a2ff;"></i><i style="left:220px;top:548px;width:14px;height:8px;background:#dcc4ff;"></i><i style="left:245px;top:548px;width:14px;height:8px;background:#c4a2ff;"></i><i style="left:259px;top:548px;width:14px;height:8px;background:#f4ecff;"></i><i style="left:273px;top:548px;width:13px;height:8px;background:#f2e7ff;"></i><i style="left:286px;top:548px;width:14px;height:8px;background:#ebdcff;"></i><i style="left:220px;top:556px;width:14px;height:9px;background:#ebdcff;"></i><i style="left:245px;top:556px;width:14px;height:9px;background:#ffe8e1;"></i><i style="left:259px;top:556px;width:14px;height:9px;background:#ffffff;"></i><i style="left:273px;top:556px;width:13px;height:9px;background:#fff9f7;"></i><i style="left:286px;top:556px;width:14px;height:9px;background:#fff9f7;"></i><i style="left:220px;top:565px;width:14px;height:8px;background:#ff3227;"></i><i style="left:245px;top:565px;width:14px;height:8px;background:#ff5640;"></i><i style="left:259px;top:565px;width:14px;height:8px;background:#ff2420;"></i><i style="left:273px;top:565px;width:13px;height:8px;background:#ebdcff;"></i><i style="left:286px;top:565px;width:14px;height:8px;background:#ebdcff;"></i><i style="left:220px;top:573px;width:14px;height:8px;background:#ffece6;"></i><i style="left:245px;top:573px;width:14px;height:8px;background:#ffbcaa;"></i><i style="left:259px;top:573px;width:14px;height:8px;background:#ffd9ce;"></i><i style="left:273px;top:573px;width:13px;height:8px;background:#ffffff;"></i><i style="left:286px;top:573px;width:14px;height:8px;background:#fbf8ff;"></i><i style="left:220px;top:581px;width:14px;height:8px;background:#f8f3ff;"></i><i style="left:245px;top:581px;width:14px;height:8px;background:#7145ff;"></i><i style="left:259px;top:581px;width:14px;height:8px;background:#c4a2ff;"></i><i style="left:273px;top:581px;width:13px;height:8px;background:#efe3ff;"></i><i style="left:286px;top:581px;width:14px;height:8px;background:#ebdcff;"></i><i style="left:220px;top:589px;width:14px;height:8px;background:#f8f3ff;"></i><i style="left:245px;top:589px;width:14px;height:8px;background:#ffd5c9;"></i><i style="left:259px;top:589px;width:14px;height:8px;background:#ffd9ce;"></i><i style="left:273px;top:589px;width:13px;height:8px;background:#fbf8ff;"></i><i style="left:286px;top:589px;width:14px;height:8px;background:#efe3ff;"></i><i style="left:220px;top:597px;width:14px;height:8px;background:#fff4f0;"></i><i style="left:245px;top:597px;width:14px;height:8px;background:#ffffff;"></i><i style="left:259px;top:597px;width:14px;height:8px;background:#ccadff;"></i><i style="left:273px;top:597px;width:13px;height:8px;background:#f2e7ff;"></i><i style="left:286px;top:597px;width:14px;height:8px;background:#d4b9ff;"></i><i style="left:220px;top:605px;width:14px;height:8px;background:#ffd9ce;"></i><i style="left:245px;top:605px;width:14px;height:8px;background:#ffece6;"></i><i style="left:259px;top:605px;width:14px;height:8px;background:#ffd9ce;"></i><i style="left:273px;top:605px;width:13px;height:8px;background:#ccadff;"></i><i style="left:286px;top:605px;width:14px;height:8px;background:#b38bff;"></i><i style="left:220px;top:613px;width:14px;height:8px;background:#fff6f3;"></i><i style="left:245px;top:613px;width:14px;height:8px;background:#0000ff;"></i><i style="left:259px;top:613px;width:14px;height:8px;background:#bc97ff;"></i><i style="left:273px;top:613px;width:13px;height:8px;background:#dcc4ff;"></i><i style="left:286px;top:613px;width:14px;height:8px;background:#dcc4ff;"></i><i style="left:220px;top:621px;width:14px;height:9px;background:#ffece6;"></i><i style="left:245px;top:621px;width:14px;height:9px;background:#ccadff;"></i><i style="left:259px;top:621px;width:14px;height:9px;background:#ffece6;"></i><i style="left:273px;top:621px;width:13px;height:9px;background:#f8f3ff;"></i><i style="left:286px;top:621px;width:14px;height:9px;background:#f2e7ff;"></i><i style="left:220px;top:630px;width:14px;height:8px;background:#fff0eb;"></i><i style="left:245px;top:630px;width:14px;height:8px;background:#fff4f0;"></i><i style="left:259px;top:630px;width:14px;height:8px;background:#ffe2da;"></i><i style="left:273px;top:630px;width:13px;height:8px;background:#efe3ff;"></i><i style="left:286px;top:630px;width:14px;height:8px;background:#ebdcff;"></i><i style="left:220px;top:638px;width:14px;height:8px;background:#fbf8ff;"></i><i style="left:245px;top:638px;width:14px;height:8px;background:#ffd9ce;"></i><i style="left:259px;top:638px;width:14px;height:8px;background:#ffc6b6;"></i><i style="left:273px;top:638px;width:13px;height:8px;background:#f8f3ff;"></i><i style="left:286px;top:638px;width:14px;height:8px;background:#e0cbff;"></i><i style="left:220px;top:646px;width:14px;height:8px;background:#ebdcff;"></i><i style="left:245px;top:646px;width:14px;height:8px;background:#ffc6b6;"></i><i style="left:259px;top:646px;width:14px;height:8px;background:#ffc6b6;"></i><i style="left:273px;top:646px;width:13px;height:8px;background:#e3d0ff;"></i><i style="left:286px;top:646px;width:14px;height:8px;background:#ccadff;"></i><i style="left:220px;top:654px;width:14px;height:8px;background:#ff9e87;"></i><i style="left:245px;top:654px;width:14px;height:8px;background:#ffd9ce;"></i><i style="left:259px;top:654px;width:14px;height:8px;background:#ffcfc2;"></i><i style="left:273px;top:654px;width:13px;height:8px;background:#ebdcff;"></i><i style="left:286px;top:654px;width:14px;height:8px;background:#e3d0ff;"></i><i style="left:183.90px;top:294.20px;width:9.80px;height:48.10px;background:linear-gradient(to bottom,#ff0016 0.0%,#ff0016 5.0%,#ff4633 10.5%,#ff684f 16.0%,#ff846b 21.5%,#ff9e87 27.0%,#ffb7a4 32.5%,#ffcfc2 38.0%,#ffe7e0 43.5%,#ffffff 49.0%,#eee2ff 54.5%,#dcc4ff 60.0%,#c8a8ff 65.5%,#b38bff 71.0%,#9b6fff 76.5%,#7e52ff 82.0%,#5932ff 87.5%,#0000ff 93.0%,#0000ff 100.0%)"></i><i style="left:183.90px;top:295.50px;width:1.6px;height:1px;background:rgba(255,255,255,.75)"></i><i style="left:192.10px;top:295.50px;width:1.6px;height:1px;background:rgba(255,255,255,.75)"></i><i style="left:183.90px;top:307.50px;width:1.6px;height:1px;background:rgba(255,255,255,.75)"></i><i style="left:192.10px;top:307.50px;width:1.6px;height:1px;background:rgba(255,255,255,.75)"></i><i style="left:183.90px;top:328.30px;width:1.6px;height:1px;background:rgba(255,255,255,.75)"></i><i style="left:192.10px;top:328.30px;width:1.6px;height:1px;background:rgba(255,255,255,.75)"></i><i style="left:183.90px;top:340.10px;width:1.6px;height:1px;background:rgba(255,255,255,.75)"></i><i style="left:192.10px;top:340.10px;width:1.6px;height:1px;background:rgba(255,255,255,.75)"></i><i style="left:393px;top:56px;width:12px;height:9px;background:#ffe2da;"></i><i style="left:415px;top:56px;width:12px;height:9px;background:#ff735a;"></i><i style="left:427px;top:56px;width:12px;height:9px;background:#ff735a;"></i><i style="left:439px;top:56px;width:12px;height:9px;background:#e3d0ff;"></i><i style="left:451px;top:56px;width:11px;height:9px;background:#ccadff;"></i><i style="left:393px;top:65px;width:12px;height:8px;background:#ff0016;"></i><i style="left:415px;top:65px;width:12px;height:8px;background:#ff0016;"></i><i style="left:427px;top:65px;width:12px;height:8px;background:#ff0016;"></i><i style="left:439px;top:65px;width:12px;height:8px;background:#efe3ff;"></i><i style="left:451px;top:65px;width:11px;height:8px;background:#f2e7ff;"></i><i style="left:393px;top:73px;width:12px;height:9px;background:#fffbfa;"></i><i style="left:415px;top:73px;width:12px;height:9px;background:#ffe2da;"></i><i style="left:427px;top:73px;width:12px;height:9px;background:#ffffff;"></i><i style="left:439px;top:73px;width:12px;height:9px;background:#f2e7ff;"></i><i style="left:451px;top:73px;width:11px;height:9px;background:#dcc4ff;"></i><i style="left:393px;top:82px;width:12px;height:9px;background:#ffd9ce;"></i><i style="left:415px;top:82px;width:12px;height:9px;background:#ff735a;"></i><i style="left:427px;top:82px;width:12px;height:9px;background:#ffa892;"></i><i style="left:439px;top:82px;width:12px;height:9px;background:#ffffff;"></i><i style="left:451px;top:82px;width:11px;height:9px;background:#fff9f7;"></i><i style="left:393px;top:91px;width:12px;height:8px;background:#fff6f3;"></i><i style="left:415px;top:91px;width:12px;height:8px;background:#ff9e87;"></i><i style="left:427px;top:91px;width:12px;height:8px;background:#ffa892;"></i><i style="left:439px;top:91px;width:12px;height:8px;background:#bc97ff;"></i><i style="left:451px;top:91px;width:11px;height:8px;background:#9569ff;"></i><i style="left:393px;top:99px;width:12px;height:9px;background:#fffbfa;"></i><i style="left:415px;top:99px;width:12px;height:9px;background:#ffbcaa;"></i><i style="left:427px;top:99px;width:12px;height:9px;background:#ffe2da;"></i><i style="left:439px;top:99px;width:12px;height:9px;background:#ffffff;"></i><i style="left:451px;top:99px;width:11px;height:9px;background:#fbf8ff;"></i><i style="left:393px;top:108px;width:12px;height:9px;background:#ff8970;"></i><i style="left:415px;top:108px;width:12px;height:9px;background:#ff533d;"></i><i style="left:427px;top:108px;width:12px;height:9px;background:#ff684f;"></i><i style="left:439px;top:108px;width:12px;height:9px;background:#0000ff;"></i><i style="left:451px;top:108px;width:11px;height:9px;background:#0000ff;"></i><i style="left:393px;top:117px;width:12px;height:8px;background:#ffe2da;"></i><i style="left:415px;top:117px;width:12px;height:8px;background:#ff947b;"></i><i style="left:427px;top:117px;width:12px;height:8px;background:#ffa892;"></i><i style="left:439px;top:117px;width:12px;height:8px;background:#d4b9ff;"></i><i style="left:451px;top:117px;width:11px;height:8px;background:#bc97ff;"></i><i style="left:393px;top:125px;width:12px;height:9px;background:#ffe2da;"></i><i style="left:415px;top:125px;width:12px;height:9px;background:#ffa892;"></i><i style="left:427px;top:125px;width:12px;height:9px;background:#ffbcaa;"></i><i style="left:439px;top:125px;width:12px;height:9px;background:#f2e7ff;"></i><i style="left:451px;top:125px;width:11px;height:9px;background:#e3d0ff;"></i><i style="left:393px;top:134px;width:12px;height:9px;background:#0000ff;"></i><i style="left:415px;top:134px;width:12px;height:9px;background:#ff735a;"></i><i style="left:427px;top:134px;width:12px;height:9px;background:#ff8970;"></i><i style="left:439px;top:134px;width:12px;height:9px;background:#dcc4ff;"></i><i style="left:451px;top:134px;width:11px;height:9px;background:#dcc4ff;"></i><i style="left:393px;top:143px;width:12px;height:8px;background:#fff9f7;"></i><i style="left:415px;top:143px;width:12px;height:8px;background:#ff9e87;"></i><i style="left:427px;top:143px;width:12px;height:8px;background:#ffbcaa;"></i><i style="left:439px;top:143px;width:12px;height:8px;background:#f8f3ff;"></i><i style="left:451px;top:143px;width:11px;height:8px;background:#fbf8ff;"></i><i style="left:393px;top:151px;width:12px;height:9px;background:#ffa892;"></i><i style="left:415px;top:151px;width:12px;height:9px;background:#ff0016;"></i><i style="left:427px;top:151px;width:12px;height:9px;background:#ff0016;"></i><i style="left:439px;top:151px;width:12px;height:9px;background:#0000ff;"></i><i style="left:451px;top:151px;width:11px;height:9px;background:#0000ff;"></i><i style="left:393px;top:160px;width:12px;height:9px;background:#ffd9ce;"></i><i style="left:415px;top:160px;width:12px;height:9px;background:#ff8970;"></i><i style="left:427px;top:160px;width:12px;height:9px;background:#ff8970;"></i><i style="left:439px;top:160px;width:12px;height:9px;background:#dcc4ff;"></i><i style="left:451px;top:160px;width:11px;height:9px;background:#e3d0ff;"></i><i style="left:393px;top:169px;width:12px;height:9px;background:#ffd9ce;"></i><i style="left:415px;top:169px;width:12px;height:9px;background:#ff8970;"></i><i style="left:427px;top:169px;width:12px;height:9px;background:#ff947b;"></i><i style="left:439px;top:169px;width:12px;height:9px;background:#ccadff;"></i><i style="left:451px;top:169px;width:11px;height:9px;background:#e3d0ff;"></i><i style="left:393px;top:178px;width:12px;height:8px;background:#fff6f3;"></i><i style="left:415px;top:178px;width:12px;height:8px;background:#ffa892;"></i><i style="left:427px;top:178px;width:12px;height:8px;background:#ffd9ce;"></i><i style="left:439px;top:178px;width:12px;height:8px;background:#f2e7ff;"></i><i style="left:451px;top:178px;width:11px;height:8px;background:#f8f3ff;"></i><i style="left:393px;top:186px;width:12px;height:9px;background:#ffe8e1;"></i><i style="left:415px;top:186px;width:12px;height:9px;background:#ff3e2e;"></i><i style="left:427px;top:186px;width:12px;height:9px;background:#ff684f;"></i><i style="left:439px;top:186px;width:12px;height:9px;background:#f2e7ff;"></i><i style="left:451px;top:186px;width:11px;height:9px;background:#f8f3ff;"></i><i style="left:393px;top:195px;width:12px;height:9px;background:#fff9f7;"></i><i style="left:415px;top:195px;width:12px;height:9px;background:#ff684f;"></i><i style="left:427px;top:195px;width:12px;height:9px;background:#ff8970;"></i><i style="left:439px;top:195px;width:12px;height:9px;background:#7e52ff;"></i><i style="left:451px;top:195px;width:11px;height:9px;background:#502bff;"></i><i style="left:393px;top:204px;width:12px;height:8px;background:#ffe2da;"></i><i style="left:415px;top:204px;width:12px;height:8px;background:#f4ecff;"></i><i style="left:427px;top:204px;width:12px;height:8px;background:#ff5b44;"></i><i style="left:439px;top:204px;width:12px;height:8px;background:#dcc4ff;"></i><i style="left:451px;top:204px;width:11px;height:8px;background:#f8f3ff;"></i><i style="left:393px;top:212px;width:12px;height:9px;background:#ffe2da;"></i><i style="left:415px;top:212px;width:12px;height:9px;background:#ffd9ce;"></i><i style="left:427px;top:212px;width:12px;height:9px;background:#ff9e87;"></i><i style="left:439px;top:212px;width:12px;height:9px;background:#f2e7ff;"></i><i style="left:451px;top:212px;width:11px;height:9px;background:#f2e7ff;"></i><i style="left:393px;top:221px;width:12px;height:9px;background:#ff5b44;"></i><i style="left:415px;top:221px;width:12px;height:9px;background:#0000ff;"></i><i style="left:427px;top:221px;width:12px;height:9px;background:#ebdcff;"></i><i style="left:439px;top:221px;width:12px;height:9px;background:#ebdcff;"></i><i style="left:451px;top:221px;width:11px;height:9px;background:#ebdcff;"></i><i style="left:393px;top:230px;width:12px;height:8px;background:#fff9f7;"></i><i style="left:415px;top:230px;width:12px;height:8px;background:#ffc6b6;"></i><i style="left:427px;top:230px;width:12px;height:8px;background:#ffece6;"></i><i style="left:439px;top:230px;width:12px;height:8px;background:#fffbfa;"></i><i style="left:451px;top:230px;width:11px;height:8px;background:#ffffff;"></i><i style="left:393px;top:238px;width:12px;height:9px;background:#d4b9ff;"></i><i style="left:415px;top:238px;width:12px;height:9px;background:#ff3e2e;"></i><i style="left:427px;top:238px;width:12px;height:9px;background:#ff7f65;"></i><i style="left:439px;top:238px;width:12px;height:9px;background:#d4b9ff;"></i><i style="left:451px;top:238px;width:11px;height:9px;background:#ccadff;"></i><i style="left:393px;top:247px;width:12px;height:9px;background:#ffe2da;"></i><i style="left:415px;top:247px;width:12px;height:9px;background:#ff684f;"></i><i style="left:427px;top:247px;width:12px;height:9px;background:#ffa892;"></i><i style="left:439px;top:247px;width:12px;height:9px;background:#f8f3ff;"></i><i style="left:451px;top:247px;width:11px;height:9px;background:#fff9f7;"></i><i style="left:393px;top:256px;width:12px;height:8px;background:#fff0eb;"></i><i style="left:415px;top:256px;width:12px;height:8px;background:#ff0016;"></i><i style="left:427px;top:256px;width:12px;height:8px;background:#ff0016;"></i><i style="left:439px;top:256px;width:12px;height:8px;background:#6239ff;"></i><i style="left:451px;top:256px;width:11px;height:8px;background:#0000ff;"></i><i style="left:393px;top:264px;width:12px;height:9px;background:#ffbcaa;"></i><i style="left:415px;top:264px;width:12px;height:9px;background:#ff947b;"></i><i style="left:427px;top:264px;width:12px;height:9px;background:#ffcfc2;"></i><i style="left:439px;top:264px;width:12px;height:9px;background:#f4ecff;"></i><i style="left:451px;top:264px;width:11px;height:9px;background:#efe3ff;"></i><i style="left:393px;top:273px;width:12px;height:9px;background:#ffe2da;"></i><i style="left:415px;top:273px;width:12px;height:9px;background:#ff684f;"></i><i style="left:427px;top:273px;width:12px;height:9px;background:#ff9e87;"></i><i style="left:439px;top:273px;width:12px;height:9px;background:#aa80ff;"></i><i style="left:451px;top:273px;width:11px;height:9px;background:#b38bff;"></i><i style="left:393px;top:282px;width:12px;height:8px;background:#ffd9ce;"></i><i style="left:415px;top:282px;width:12px;height:8px;background:#ffa892;"></i><i style="left:427px;top:282px;width:12px;height:8px;background:#ffc6b6;"></i><i style="left:439px;top:282px;width:12px;height:8px;background:#fbf8ff;"></i><i style="left:451px;top:282px;width:11px;height:8px;background:#ffffff;"></i><i style="left:393px;top:290px;width:12px;height:9px;background:#fff6f3;"></i><i style="left:415px;top:290px;width:12px;height:9px;background:#ff4e39;"></i><i style="left:427px;top:290px;width:12px;height:9px;background:#ffa892;"></i><i style="left:439px;top:290px;width:12px;height:9px;background:#f2e7ff;"></i><i style="left:451px;top:290px;width:11px;height:9px;background:#f2e7ff;"></i><i style="left:393px;top:299px;width:12px;height:9px;background:#ffe8e1;"></i><i style="left:415px;top:299px;width:12px;height:9px;background:#ff2a22;"></i><i style="left:427px;top:299px;width:12px;height:9px;background:#ff684f;"></i><i style="left:439px;top:299px;width:12px;height:9px;background:#d4b9ff;"></i><i style="left:451px;top:299px;width:11px;height:9px;background:#dcc4ff;"></i><i style="left:393px;top:308px;width:12px;height:8px;background:#ffc6b6;"></i><i style="left:415px;top:308px;width:12px;height:8px;background:#ff947b;"></i><i style="left:427px;top:308px;width:12px;height:8px;background:#ffe2da;"></i><i style="left:439px;top:308px;width:12px;height:8px;background:#f4ecff;"></i><i style="left:451px;top:308px;width:11px;height:8px;background:#f4ecff;"></i><i style="left:393px;top:316px;width:12px;height:9px;background:#ffe2da;"></i><i style="left:415px;top:316px;width:12px;height:9px;background:#ff735a;"></i><i style="left:427px;top:316px;width:12px;height:9px;background:#ffb29e;"></i><i style="left:439px;top:316px;width:12px;height:9px;background:#f8f3ff;"></i><i style="left:451px;top:316px;width:11px;height:9px;background:#e3d0ff;"></i><i style="left:393px;top:325px;width:12px;height:9px;background:#fff9f7;"></i><i style="left:415px;top:325px;width:12px;height:9px;background:#ff6048;"></i><i style="left:427px;top:325px;width:12px;height:9px;background:#ffbcaa;"></i><i style="left:439px;top:325px;width:12px;height:9px;background:#efe3ff;"></i><i style="left:451px;top:325px;width:11px;height:9px;background:#f8f3ff;"></i><i style="left:393px;top:334px;width:12px;height:8px;background:#f8f3ff;"></i><i style="left:415px;top:334px;width:12px;height:8px;background:#ff9e87;"></i><i style="left:427px;top:334px;width:12px;height:8px;background:#ffc6b6;"></i><i style="left:439px;top:334px;width:12px;height:8px;background:#f2e7ff;"></i><i style="left:451px;top:334px;width:11px;height:8px;background:#d4b9ff;"></i><i style="left:393px;top:342px;width:12px;height:9px;background:#ffece6;"></i><i style="left:415px;top:342px;width:12px;height:9px;background:#ff8970;"></i><i style="left:427px;top:342px;width:12px;height:9px;background:#ffa892;"></i><i style="left:439px;top:342px;width:12px;height:9px;background:#e3d0ff;"></i><i style="left:451px;top:342px;width:11px;height:9px;background:#dcc4ff;"></i><i style="left:393px;top:351px;width:12px;height:9px;background:#fffbfa;"></i><i style="left:415px;top:351px;width:12px;height:9px;background:#ff9e87;"></i><i style="left:427px;top:351px;width:12px;height:9px;background:#ff8970;"></i><i style="left:439px;top:351px;width:12px;height:9px;background:#f4ecff;"></i><i style="left:451px;top:351px;width:11px;height:9px;background:#ebdcff;"></i><i style="left:393px;top:360px;width:12px;height:8px;background:#ffe2da;"></i><i style="left:415px;top:360px;width:12px;height:8px;background:#ebdcff;"></i><i style="left:427px;top:360px;width:12px;height:8px;background:#f2e7ff;"></i><i style="left:439px;top:360px;width:12px;height:8px;background:#ffffff;"></i><i style="left:451px;top:360px;width:11px;height:8px;background:#e3d0ff;"></i><i style="left:393px;top:368px;width:12px;height:9px;background:#ff5b44;"></i><i style="left:415px;top:368px;width:12px;height:9px;background:#0000ff;"></i><i style="left:427px;top:368px;width:12px;height:9px;background:#ffb29e;"></i><i style="left:439px;top:368px;width:12px;height:9px;background:#f2e7ff;"></i><i style="left:451px;top:368px;width:11px;height:9px;background:#f2e7ff;"></i><i style="left:393px;top:377px;width:12px;height:9px;background:#ffb29e;"></i><i style="left:415px;top:377px;width:12px;height:9px;background:#ff735a;"></i><i style="left:427px;top:377px;width:12px;height:9px;background:#ff947b;"></i><i style="left:439px;top:377px;width:12px;height:9px;background:#fff9f7;"></i><i style="left:451px;top:377px;width:11px;height:9px;background:#fff9f7;"></i><i style="left:393px;top:386px;width:12px;height:9px;background:#ffece6;"></i><i style="left:415px;top:386px;width:12px;height:9px;background:#ff7f65;"></i><i style="left:427px;top:386px;width:12px;height:9px;background:#ffa892;"></i><i style="left:439px;top:386px;width:12px;height:9px;background:#fffbfa;"></i><i style="left:451px;top:386px;width:11px;height:9px;background:#fff9f7;"></i><i style="left:393px;top:395px;width:12px;height:8px;background:#ffd9ce;"></i><i style="left:415px;top:395px;width:12px;height:8px;background:#ffa892;"></i><i style="left:427px;top:395px;width:12px;height:8px;background:#ffece6;"></i><i style="left:439px;top:395px;width:12px;height:8px;background:#f8f3ff;"></i><i style="left:451px;top:395px;width:11px;height:8px;background:#fff6f3;"></i><i style="left:393px;top:403px;width:12px;height:9px;background:#ffece6;"></i><i style="left:415px;top:403px;width:12px;height:9px;background:#ffb29e;"></i><i style="left:427px;top:403px;width:12px;height:9px;background:#ffbcaa;"></i><i style="left:439px;top:403px;width:12px;height:9px;background:#f8f3ff;"></i><i style="left:451px;top:403px;width:11px;height:9px;background:#f8f3ff;"></i><i style="left:393px;top:412px;width:12px;height:9px;background:#ffece6;"></i><i style="left:415px;top:412px;width:12px;height:9px;background:#ff7f65;"></i><i style="left:427px;top:412px;width:12px;height:9px;background:#ffa892;"></i><i style="left:439px;top:412px;width:12px;height:9px;background:#f8f3ff;"></i><i style="left:451px;top:412px;width:11px;height:9px;background:#ffffff;"></i><i style="left:393px;top:421px;width:12px;height:8px;background:#ffe8e1;"></i><i style="left:415px;top:421px;width:12px;height:8px;background:#ff0016;"></i><i style="left:427px;top:421px;width:12px;height:8px;background:#ff4835;"></i><i style="left:439px;top:421px;width:12px;height:8px;background:#bc97ff;"></i><i style="left:451px;top:421px;width:11px;height:8px;background:#ccadff;"></i><i style="left:393px;top:429px;width:12px;height:9px;background:#ff0016;"></i><i style="left:415px;top:429px;width:12px;height:9px;background:#ff4e39;"></i><i style="left:427px;top:429px;width:12px;height:9px;background:#ffa892;"></i><i style="left:439px;top:429px;width:12px;height:9px;background:#ebdcff;"></i><i style="left:451px;top:429px;width:11px;height:9px;background:#f8f3ff;"></i><i style="left:393px;top:438px;width:12px;height:9px;background:#ffe8e1;"></i><i style="left:415px;top:438px;width:12px;height:9px;background:#ffbcaa;"></i><i style="left:427px;top:438px;width:12px;height:9px;background:#ffbcaa;"></i><i style="left:439px;top:438px;width:12px;height:9px;background:#f2e7ff;"></i><i style="left:451px;top:438px;width:11px;height:9px;background:#d7beff;"></i><i style="left:393px;top:447px;width:12px;height:8px;background:#ffece6;"></i><i style="left:415px;top:447px;width:12px;height:8px;background:#d4b9ff;"></i><i style="left:427px;top:447px;width:12px;height:8px;background:#0000ff;"></i><i style="left:439px;top:447px;width:12px;height:8px;background:#fff6f3;"></i><i style="left:451px;top:447px;width:11px;height:8px;background:#ffe8e1;"></i><i style="left:393px;top:455px;width:12px;height:9px;background:#ffece6;"></i><i style="left:415px;top:455px;width:12px;height:9px;background:#ffe2da;"></i><i style="left:427px;top:455px;width:12px;height:9px;background:#f4ecff;"></i><i style="left:439px;top:455px;width:12px;height:9px;background:#ebdcff;"></i><i style="left:451px;top:455px;width:11px;height:9px;background:#dcc4ff;"></i><i style="left:393px;top:464px;width:12px;height:9px;background:#ffe2da;"></i><i style="left:415px;top:464px;width:12px;height:9px;background:#ff3e2e;"></i><i style="left:427px;top:464px;width:12px;height:9px;background:#ff9e87;"></i><i style="left:439px;top:464px;width:12px;height:9px;background:#d4b9ff;"></i><i style="left:451px;top:464px;width:11px;height:9px;background:#ccadff;"></i><i style="left:393px;top:473px;width:12px;height:8px;background:#fff0eb;"></i><i style="left:415px;top:473px;width:12px;height:8px;background:#ffbcaa;"></i><i style="left:427px;top:473px;width:12px;height:8px;background:#ffd9ce;"></i><i style="left:439px;top:473px;width:12px;height:8px;background:#f2e7ff;"></i><i style="left:451px;top:473px;width:11px;height:8px;background:#ebdcff;"></i><i style="left:393px;top:481px;width:12px;height:9px;background:#ccadff;"></i><i style="left:415px;top:481px;width:12px;height:9px;background:#ffb6a3;"></i><i style="left:427px;top:481px;width:12px;height:9px;background:#ffcfc2;"></i><i style="left:439px;top:481px;width:12px;height:9px;background:#f2e7ff;"></i><i style="left:451px;top:481px;width:11px;height:9px;background:#ebdcff;"></i><i style="left:393px;top:490px;width:12px;height:9px;background:#fff0eb;"></i><i style="left:415px;top:490px;width:12px;height:9px;background:#ffc6b6;"></i><i style="left:427px;top:490px;width:12px;height:9px;background:#ffd9ce;"></i><i style="left:439px;top:490px;width:12px;height:9px;background:#ffffff;"></i><i style="left:451px;top:490px;width:11px;height:9px;background:#fff9f7;"></i><i style="left:393px;top:499px;width:12px;height:8px;background:#fff6f3;"></i><i style="left:415px;top:499px;width:12px;height:8px;background:#ff9e87;"></i><i style="left:427px;top:499px;width:12px;height:8px;background:#ffd9ce;"></i><i style="left:439px;top:499px;width:12px;height:8px;background:#e3d0ff;"></i><i style="left:451px;top:499px;width:11px;height:8px;background:#d4b9ff;"></i><i style="left:393px;top:507px;width:12px;height:9px;background:#ffe2da;"></i><i style="left:415px;top:507px;width:12px;height:9px;background:#ff947b;"></i><i style="left:427px;top:507px;width:12px;height:9px;background:#ff9e87;"></i><i style="left:439px;top:507px;width:12px;height:9px;background:#fbf8ff;"></i><i style="left:451px;top:507px;width:11px;height:9px;background:#dcc4ff;"></i><i style="left:393px;top:516px;width:12px;height:9px;background:#ffe2da;"></i><i style="left:415px;top:516px;width:12px;height:9px;background:#ccadff;"></i><i style="left:427px;top:516px;width:12px;height:9px;background:#fffbfa;"></i><i style="left:439px;top:516px;width:12px;height:9px;background:#f4ecff;"></i><i style="left:451px;top:516px;width:11px;height:9px;background:#dcc4ff;"></i><i style="left:393px;top:525px;width:12px;height:8px;background:#ffe2da;"></i><i style="left:415px;top:525px;width:12px;height:8px;background:#ff735a;"></i><i style="left:427px;top:525px;width:12px;height:8px;background:#ff947b;"></i><i style="left:439px;top:525px;width:12px;height:8px;background:#fff4f0;"></i><i style="left:451px;top:525px;width:11px;height:8px;background:#ffe8e1;"></i><i style="left:393px;top:533px;width:12px;height:9px;background:#fff6f3;"></i><i style="left:415px;top:533px;width:12px;height:9px;background:#ff4e39;"></i><i style="left:427px;top:533px;width:12px;height:9px;background:#ff947b;"></i><i style="left:439px;top:533px;width:12px;height:9px;background:#f8f3ff;"></i><i style="left:451px;top:533px;width:11px;height:9px;background:#ffffff;"></i><i style="left:393px;top:542px;width:12px;height:9px;background:#e3d0ff;"></i><i style="left:415px;top:542px;width:12px;height:9px;background:#ffcfc2;"></i><i style="left:427px;top:542px;width:12px;height:9px;background:#fbf8ff;"></i><i style="left:439px;top:542px;width:12px;height:9px;background:#ebdcff;"></i><i style="left:451px;top:542px;width:11px;height:9px;background:#faf6ff;"></i><i style="left:357.00px;top:284.80px;width:11.10px;height:55.00px;background:linear-gradient(to bottom,#ff0016 0.0%,#ff0016 13.0%,#ff4633 20.1%,#ff684f 27.2%,#ff846b 34.4%,#ff9e87 41.5%,#ffb7a4 48.6%,#ffcfc2 55.8%,#ffe7e0 62.9%,#ffffff 70.0%,#eee2ff 71.5%,#dcc4ff 73.0%,#c8a8ff 74.5%,#b38bff 76.0%,#9b6fff 77.5%,#7e52ff 79.0%,#5932ff 80.5%,#0000ff 82.0%,#0000ff 100.0%)"></i><i style="left:357.00px;top:286.70px;width:1.6px;height:1px;background:rgba(255,255,255,.75)"></i><i style="left:366.50px;top:286.70px;width:1.6px;height:1px;background:rgba(255,255,255,.75)"></i><i style="left:357.00px;top:299.60px;width:1.6px;height:1px;background:rgba(255,255,255,.75)"></i><i style="left:366.50px;top:299.60px;width:1.6px;height:1px;background:rgba(255,255,255,.75)"></i><i style="left:357.00px;top:311.80px;width:1.6px;height:1px;background:rgba(255,255,255,.75)"></i><i style="left:366.50px;top:311.80px;width:1.6px;height:1px;background:rgba(255,255,255,.75)"></i><i style="left:357.00px;top:336.90px;width:1.6px;height:1px;background:rgba(255,255,255,.75)"></i><i style="left:366.50px;top:336.90px;width:1.6px;height:1px;background:rgba(255,255,255,.75)"></i><i style="left:438.90px;top:602.00px;width:13.90px;height:65.00px;background:linear-gradient(to bottom,#ff0016 0.0%,#ff0016 5.0%,#ff4633 13.6%,#ff684f 22.2%,#ff846b 30.9%,#ff9e87 39.5%,#ffb7a4 48.1%,#ffcfc2 56.8%,#ffe7e0 65.4%,#ffffff 74.0%,#eee2ff 76.6%,#dcc4ff 79.2%,#c8a8ff 81.9%,#b38bff 84.5%,#9b6fff 87.1%,#7e52ff 89.8%,#5932ff 92.4%,#0000ff 95.0%,#0000ff 100.0%)"></i><i style="left:438.90px;top:604.00px;width:1.6px;height:1px;background:rgba(255,255,255,.75)"></i><i style="left:451.20px;top:604.00px;width:1.6px;height:1px;background:rgba(255,255,255,.75)"></i><i style="left:438.90px;top:619.00px;width:1.6px;height:1px;background:rgba(255,255,255,.75)"></i><i style="left:451.20px;top:619.00px;width:1.6px;height:1px;background:rgba(255,255,255,.75)"></i><i style="left:438.90px;top:634.00px;width:1.6px;height:1px;background:rgba(255,255,255,.75)"></i><i style="left:451.20px;top:634.00px;width:1.6px;height:1px;background:rgba(255,255,255,.75)"></i><i style="left:438.90px;top:664.10px;width:1.6px;height:1px;background:rgba(255,255,255,.75)"></i><i style="left:451.20px;top:664.10px;width:1.6px;height:1px;background:rgba(255,255,255,.75)"></i>
<div id="txt"><div class="t" style="left:7.00px;top:4.80px;font-size:13px;line-height:13px;font-weight:bold;font-style:normal;color:#000;-webkit-text-stroke-color:#000;-webkit-text-stroke:0;">A</div><div class="t" style="left:7.20px;top:269.80px;font-size:13px;line-height:13px;font-weight:bold;font-style:normal;color:#000;-webkit-text-stroke-color:#000;-webkit-text-stroke:0;">B</div><div class="t" style="left:6.90px;top:475.40px;font-size:13px;line-height:13px;font-weight:bold;font-style:normal;color:#000;-webkit-text-stroke-color:#000;-webkit-text-stroke:0;">C</div><div class="t" style="left:204.60px;top:4.50px;font-size:13px;line-height:13px;font-weight:bold;font-style:normal;color:#000;-webkit-text-stroke-color:#000;-webkit-text-stroke:0;">D</div><div class="t" style="left:359.20px;top:4.70px;font-size:13px;line-height:13px;font-weight:bold;font-style:normal;color:#000;-webkit-text-stroke-color:#000;-webkit-text-stroke:0;">E</div><div class="t" style="left:358.20px;top:564.80px;font-size:13px;line-height:13px;font-weight:bold;font-style:normal;color:#000;-webkit-text-stroke-color:#000;-webkit-text-stroke:0;">F</div><div class="t" style="left:168.00px;top:50.60px;font-size:7.6px;line-height:7.6px;font-weight:normal;font-style:normal;transform-origin:0 3.82px;transform:scaleY(1.1);">ADSL</div><div class="t" style="left:168.00px;top:65.43px;font-size:7.6px;line-height:7.6px;font-weight:normal;font-style:normal;transform-origin:0 3.82px;transform:scaleY(1.1);">ATIC</div><div class="t" style="left:168.00px;top:80.26px;font-size:7.6px;line-height:7.6px;font-weight:normal;font-style:normal;transform-origin:0 3.82px;transform:scaleY(1.1);">GART</div><div class="t" style="left:168.00px;top:95.09px;font-size:7.6px;line-height:7.6px;font-weight:normal;font-style:normal;transform-origin:0 3.82px;transform:scaleY(1.1);">PAICS</div><div class="t" style="left:168.00px;top:109.92px;font-size:7.6px;line-height:7.6px;font-weight:normal;font-style:normal;transform-origin:0 3.82px;transform:scaleY(1.1);">PFAS</div><div class="t" style="left:168.00px;top:124.75px;font-size:7.6px;line-height:7.6px;font-weight:normal;font-style:normal;transform-origin:0 3.82px;transform:scaleY(1.1);">PPAT</div><div class="t" style="left:168.00px;top:139.58px;font-size:7.6px;line-height:7.6px;font-weight:normal;font-style:normal;transform-origin:0 3.82px;transform:scaleY(1.1);">GCLC</div><div class="t" style="left:168.00px;top:154.41px;font-size:7.6px;line-height:7.6px;font-weight:normal;font-style:normal;transform-origin:0 3.82px;transform:scaleY(1.1);">GCLM</div><div class="t" style="left:168.00px;top:169.24px;font-size:7.6px;line-height:7.6px;font-weight:normal;font-style:normal;transform-origin:0 3.82px;transform:scaleY(1.1);">MGST1</div><div class="t" style="left:168.00px;top:184.07px;font-size:7.6px;line-height:7.6px;font-weight:normal;font-style:normal;transform-origin:0 3.82px;transform:scaleY(1.1);">MGST2</div><div class="t" style="left:168.00px;top:198.90px;font-size:7.6px;line-height:7.6px;font-weight:normal;font-style:normal;transform-origin:0 3.82px;transform:scaleY(1.1);">MGST3</div><div class="t" style="left:168.00px;top:213.73px;font-size:7.6px;line-height:7.6px;font-weight:normal;font-style:normal;transform-origin:0 3.82px;transform:scaleY(1.1);">GPX1</div><div class="t" style="left:168.00px;top:228.56px;font-size:7.6px;line-height:7.6px;font-weight:normal;font-style:normal;transform-origin:0 3.82px;transform:scaleY(1.1);">GPX3</div><div class="t" style="left:168.00px;top:243.39px;font-size:7.6px;line-height:7.6px;font-weight:normal;font-style:normal;transform-origin:0 3.82px;transform:scaleY(1.1);">GPX4</div><div class="t" style="left:168.00px;top:258.22px;font-size:7.6px;line-height:7.6px;font-weight:normal;font-style:normal;transform-origin:0 3.82px;transform:scaleY(1.1);">GPX7</div><div class="t" style="left:77.41px;top:43.80px;font-size:7.6px;line-height:7.6px;font-weight:normal;font-style:normal;transform-origin:0 0;transform:rotate(-90deg) scaleY(1.15);">LN</div><div class="t" style="left:100.22px;top:43.80px;font-size:7.4px;line-height:7.4px;font-weight:normal;font-style:normal;transform-origin:0 0;transform:rotate(-90deg) scaleY(1.15);">BCR-6h</div><div class="t" style="left:117.73px;top:43.80px;font-size:7.9px;line-height:7.9px;font-weight:normal;font-style:normal;transform-origin:0 0;transform:rotate(-90deg) scaleY(1.15);">CD40-48h</div><div class="t" style="left:134.03px;top:43.80px;font-size:7.9px;line-height:7.9px;font-weight:normal;font-style:normal;transform-origin:0 0;transform:rotate(-90deg) scaleY(1.15);">IBR-1M</div><div class="t" style="left:150.93px;top:43.80px;font-size:7.9px;line-height:7.9px;font-weight:normal;font-style:normal;transform-origin:0 0;transform:rotate(-90deg) scaleY(1.15);">IBR-6M</div><div class="t" style="right:451.00px;top:116.18px;font-size:9px;line-height:9px;font-weight:bold;font-style:italic;text-align:right;color:#000;-webkit-text-stroke-color:#000;-webkit-text-stroke:0;">Purinosome</div><div class="t" style="right:451.00px;top:139.28px;font-size:9px;line-height:9px;font-weight:bold;font-style:italic;text-align:right;color:#000;-webkit-text-stroke-color:#000;-webkit-text-stroke:0;">Glu-cys</div><div class="t" style="right:451.00px;top:152.58px;font-size:9px;line-height:9px;font-weight:bold;font-style:italic;text-align:right;color:#000;-webkit-text-stroke-color:#000;-webkit-text-stroke:0;">Ligase</div><div class="t" style="right:451.00px;top:182.94px;font-size:9.4px;line-height:9.4px;font-weight:bold;font-style:italic;text-align:right;color:#000;-webkit-text-stroke-color:#000;-webkit-text-stroke:0;">Glutathione</div><div class="t" style="right:451.00px;top:198.48px;font-size:9px;line-height:9px;font-weight:bold;font-style:italic;text-align:right;color:#000;-webkit-text-stroke-color:#000;-webkit-text-stroke:0;">S-transferases</div><div class="t" style="right:452.70px;top:228.84px;font-size:9.4px;line-height:9.4px;font-weight:bold;font-style:italic;text-align:right;color:#000;-webkit-text-stroke-color:#000;-webkit-text-stroke:0;">Glutathione</div><div class="t" style="right:452.50px;top:243.18px;font-size:9px;line-height:9px;font-weight:bold;font-style:italic;text-align:right;color:#000;-webkit-text-stroke-color:#000;-webkit-text-stroke:0;">Peroxidases</div><div class="t" style="left:34.20px;top:36.74px;font-size:7.4px;line-height:7.4px;font-weight:bold;font-style:normal;color:#000;-webkit-text-stroke-color:#000;-webkit-text-stroke:0;">log2FC</div><div class="t" style="left:54.00px;top:51.58px;font-size:7.4px;line-height:7.4px;font-weight:normal;font-style:normal;-webkit-text-stroke:0;color:#222">0.2</div><div class="t" style="left:54.00px;top:64.48px;font-size:7.4px;line-height:7.4px;font-weight:normal;font-style:normal;-webkit-text-stroke:0;color:#222">0.1</div><div class="t" style="left:54.00px;top:79.78px;font-size:7.4px;line-height:7.4px;font-weight:normal;font-style:normal;-webkit-text-stroke:0;color:#222">0</div><div class="t" style="left:50.30px;top:94.08px;font-size:7.4px;line-height:7.4px;font-weight:normal;font-style:normal;-webkit-text-stroke:0;color:#222">−0.1</div><div class="t" style="left:148.30px;top:340.58px;font-size:7.6px;line-height:7.6px;font-weight:normal;font-style:normal;transform-origin:0 3.82px;transform:scaleY(1.1);">ASNS</div><div class="t" style="left:148.30px;top:364.58px;font-size:7.6px;line-height:7.6px;font-weight:normal;font-style:normal;transform-origin:0 3.82px;transform:scaleY(1.1);">GFPT1</div><div class="t" style="left:148.30px;top:389.08px;font-size:7.6px;line-height:7.6px;font-weight:normal;font-style:normal;transform-origin:0 3.82px;transform:scaleY(1.1);">GLS</div><div class="t" style="left:148.30px;top:413.18px;font-size:7.6px;line-height:7.6px;font-weight:normal;font-style:normal;transform-origin:0 3.82px;transform:scaleY(1.1);">SLC1A5</div><div class="t" style="left:148.30px;top:437.38px;font-size:7.6px;line-height:7.6px;font-weight:normal;font-style:normal;transform-origin:0 3.82px;transform:scaleY(1.1);">SLC38A1</div><div class="t" style="left:148.30px;top:460.68px;font-size:7.6px;line-height:7.6px;font-weight:normal;font-style:normal;transform-origin:0 3.82px;transform:scaleY(1.1);">SLC38A2</div><div class="t" style="left:67.31px;top:323.80px;font-size:7.6px;line-height:7.6px;font-weight:normal;font-style:normal;transform-origin:0 0;transform:rotate(-90deg) scaleY(1.15);">LN</div><div class="t" style="left:88.62px;top:323.80px;font-size:7.4px;line-height:7.4px;font-weight:normal;font-style:normal;transform-origin:0 0;transform:rotate(-90deg) scaleY(1.15);">BCR-6h</div><div class="t" style="left:103.63px;top:323.80px;font-size:7.9px;line-height:7.9px;font-weight:normal;font-style:normal;transform-origin:0 0;transform:rotate(-90deg) scaleY(1.15);">CD40-48h</div><div class="t" style="left:117.13px;top:323.80px;font-size:7.9px;line-height:7.9px;font-weight:normal;font-style:normal;transform-origin:0 0;transform:rotate(-90deg) scaleY(1.15);">IBR-1M</div><div class="t" style="left:131.33px;top:323.80px;font-size:7.9px;line-height:7.9px;font-weight:normal;font-style:normal;transform-origin:0 0;transform:rotate(-90deg) scaleY(1.15);">IBR-6M</div><div class="t" style="left:37.08px;top:344.90px;font-size:9px;line-height:9px;font-weight:bold;font-style:italic;transform-origin:0 0;transform:rotate(-90deg) scaleY(1.0);color:#000-webkit-text-stroke:0;">Glutamine</div><div class="t" style="left:15.30px;top:371.62px;font-size:8.25px;line-height:8.25px;font-weight:bold;font-style:normal;color:#000;-webkit-text-stroke-color:#000;-webkit-text-stroke:0;">log2FC</div><div class="t" style="left:31.00px;top:383.48px;font-size:7.4px;line-height:7.4px;font-weight:normal;font-style:normal;-webkit-text-stroke:0;color:#222">0.06</div><div class="t" style="left:31.00px;top:395.18px;font-size:7.4px;line-height:7.4px;font-weight:normal;font-style:normal;-webkit-text-stroke:0;color:#222">0.04</div><div class="t" style="left:31.00px;top:407.08px;font-size:7.4px;line-height:7.4px;font-weight:normal;font-style:normal;-webkit-text-stroke:0;color:#222">0.02</div><div class="t" style="left:31.00px;top:417.18px;font-size:7.4px;line-height:7.4px;font-weight:normal;font-style:normal;-webkit-text-stroke:0;color:#222">0</div><div class="t" style="left:26.90px;top:428.98px;font-size:7.4px;line-height:7.4px;font-weight:normal;font-style:normal;-webkit-text-stroke:0;color:#222">−0.02</div><div class="t" style="left:148.40px;top:520.48px;font-size:7.6px;line-height:7.6px;font-weight:normal;font-style:normal;transform-origin:0 3.82px;transform:scaleY(1.1);">ALDOA</div><div class="t" style="left:148.40px;top:534.98px;font-size:7.6px;line-height:7.6px;font-weight:normal;font-style:normal;transform-origin:0 3.82px;transform:scaleY(1.1);">ENO1</div><div class="t" style="left:148.40px;top:549.28px;font-size:7.6px;line-height:7.6px;font-weight:normal;font-style:normal;transform-origin:0 3.82px;transform:scaleY(1.1);">GAPDH</div><div class="t" style="left:148.40px;top:563.68px;font-size:7.6px;line-height:7.6px;font-weight:normal;font-style:normal;transform-origin:0 3.82px;transform:scaleY(1.1);">GPI</div><div class="t" style="left:148.40px;top:578.18px;font-size:7.6px;line-height:7.6px;font-weight:normal;font-style:normal;transform-origin:0 3.82px;transform:scaleY(1.1);">HK1</div><div class="t" style="left:148.40px;top:592.78px;font-size:7.6px;line-height:7.6px;font-weight:normal;font-style:normal;transform-origin:0 3.82px;transform:scaleY(1.1);">LDHA</div><div class="t" style="left:148.40px;top:607.18px;font-size:7.6px;line-height:7.6px;font-weight:normal;font-style:normal;transform-origin:0 3.82px;transform:scaleY(1.1);">PFKL</div><div class="t" style="left:148.40px;top:621.58px;font-size:7.6px;line-height:7.6px;font-weight:normal;font-style:normal;transform-origin:0 3.82px;transform:scaleY(1.1);">PGAM1</div><div class="t" style="left:148.40px;top:636.28px;font-size:7.6px;line-height:7.6px;font-weight:normal;font-style:normal;transform-origin:0 3.82px;transform:scaleY(1.1);">SLC2A1</div><div class="t" style="left:148.40px;top:650.78px;font-size:7.6px;line-height:7.6px;font-weight:normal;font-style:normal;transform-origin:0 3.82px;transform:scaleY(1.1);">TPI1</div><div class="t" style="left:65.01px;top:517.80px;font-size:7.6px;line-height:7.6px;font-weight:normal;font-style:normal;transform-origin:0 0;transform:rotate(-90deg) scaleY(1.15);">LN</div><div class="t" style="left:85.32px;top:517.80px;font-size:7.4px;line-height:7.4px;font-weight:normal;font-style:normal;transform-origin:0 0;transform:rotate(-90deg) scaleY(1.15);">BCR-6h</div><div class="t" style="left:101.73px;top:517.80px;font-size:7.9px;line-height:7.9px;font-weight:normal;font-style:normal;transform-origin:0 0;transform:rotate(-90deg) scaleY(1.15);">CD40-48h</div><div class="t" style="left:117.43px;top:517.80px;font-size:7.9px;line-height:7.9px;font-weight:normal;font-style:normal;transform-origin:0 0;transform:rotate(-90deg) scaleY(1.15);">IBR-1M</div><div class="t" style="left:133.23px;top:517.80px;font-size:7.9px;line-height:7.9px;font-weight:normal;font-style:normal;transform-origin:0 0;transform:rotate(-90deg) scaleY(1.15);">IBR-6M</div><div class="t" style="left:36.33px;top:530.80px;font-size:9px;line-height:9px;font-weight:bold;font-style:italic;transform-origin:0 0;transform:rotate(-90deg) scaleY(1.0);color:#000-webkit-text-stroke:0;">Glycolysis</div><div class="t" style="left:24.70px;top:553.79px;font-size:7.45px;line-height:7.45px;font-weight:bold;font-style:normal;color:#000;-webkit-text-stroke-color:#000;-webkit-text-stroke:0;">log2FC</div><div class="t" style="left:42.00px;top:565.48px;font-size:7.4px;line-height:7.4px;font-weight:normal;font-style:normal;-webkit-text-stroke:0;color:#222">0.1</div><div class="t" style="left:42.00px;top:580.28px;font-size:7.4px;line-height:7.4px;font-weight:normal;font-style:normal;-webkit-text-stroke:0;color:#222">0.05</div><div class="t" style="left:42.00px;top:595.48px;font-size:7.4px;line-height:7.4px;font-weight:normal;font-style:normal;-webkit-text-stroke:0;color:#222">0</div><div class="t" style="left:38.60px;top:609.28px;font-size:7.4px;line-height:7.4px;font-weight:normal;font-style:normal;-webkit-text-stroke:0;color:#222">−0.05</div><div class="t" style="left:304.20px;top:53.16px;font-size:7.05px;line-height:7.05px;font-weight:normal;font-style:normal;transform-origin:0 3.54px;transform:scaleY(1.06);">ATP6V0A1</div><div class="t" style="left:304.20px;top:61.31px;font-size:7.05px;line-height:7.05px;font-weight:normal;font-style:normal;transform-origin:0 3.54px;transform:scaleY(1.06);">ATP6V0A2</div><div class="t" style="left:304.20px;top:69.47px;font-size:7.05px;line-height:7.05px;font-weight:normal;font-style:normal;transform-origin:0 3.54px;transform:scaleY(1.06);">ATP6V0B</div><div class="t" style="left:304.20px;top:77.63px;font-size:7.05px;line-height:7.05px;font-weight:normal;font-style:normal;transform-origin:0 3.54px;transform:scaleY(1.06);">ATP6V0C</div><div class="t" style="left:304.20px;top:85.79px;font-size:7.05px;line-height:7.05px;font-weight:normal;font-style:normal;transform-origin:0 3.54px;transform:scaleY(1.06);">ATP6V0D1</div><div class="t" style="left:304.20px;top:93.94px;font-size:7.05px;line-height:7.05px;font-weight:normal;font-style:normal;transform-origin:0 3.54px;transform:scaleY(1.06);">ATP6V0E1</div><div class="t" style="left:304.20px;top:102.10px;font-size:7.05px;line-height:7.05px;font-weight:normal;font-style:normal;transform-origin:0 3.54px;transform:scaleY(1.06);">ATP6V1A</div><div class="t" style="left:304.20px;top:110.26px;font-size:7.05px;line-height:7.05px;font-weight:normal;font-style:normal;transform-origin:0 3.54px;transform:scaleY(1.06);">ATP6V1B2</div><div class="t" style="left:304.20px;top:118.41px;font-size:7.05px;line-height:7.05px;font-weight:normal;font-style:normal;transform-origin:0 3.54px;transform:scaleY(1.06);">ATP6V1C1</div><div class="t" style="left:304.20px;top:126.57px;font-size:7.05px;line-height:7.05px;font-weight:normal;font-style:normal;transform-origin:0 3.54px;transform:scaleY(1.06);">ATP6V1C2</div><div class="t" style="left:304.20px;top:134.73px;font-size:7.05px;line-height:7.05px;font-weight:normal;font-style:normal;transform-origin:0 3.54px;transform:scaleY(1.06);">ATP6V1D</div><div class="t" style="left:304.20px;top:142.88px;font-size:7.05px;line-height:7.05px;font-weight:normal;font-style:normal;transform-origin:0 3.54px;transform:scaleY(1.06);">ATP6V1E1</div><div class="t" style="left:304.20px;top:151.04px;font-size:7.05px;line-height:7.05px;font-weight:normal;font-style:normal;transform-origin:0 3.54px;transform:scaleY(1.06);">ATP6V1F</div><div class="t" style="left:304.20px;top:159.20px;font-size:7.05px;line-height:7.05px;font-weight:normal;font-style:normal;transform-origin:0 3.54px;transform:scaleY(1.06);">ATP6V1G1</div><div class="t" style="left:304.20px;top:167.36px;font-size:7.05px;line-height:7.05px;font-weight:normal;font-style:normal;transform-origin:0 3.54px;transform:scaleY(1.06);">ATP6V1G2</div><div class="t" style="left:304.20px;top:175.51px;font-size:7.05px;line-height:7.05px;font-weight:normal;font-style:normal;transform-origin:0 3.54px;transform:scaleY(1.06);">ATP6V1H</div><div class="t" style="left:304.20px;top:183.67px;font-size:7.05px;line-height:7.05px;font-weight:normal;font-style:normal;transform-origin:0 3.54px;transform:scaleY(1.06);">COX10</div><div class="t" style="left:304.20px;top:191.83px;font-size:7.05px;line-height:7.05px;font-weight:normal;font-style:normal;transform-origin:0 3.54px;transform:scaleY(1.06);">COX15</div><div class="t" style="left:304.20px;top:199.98px;font-size:7.05px;line-height:7.05px;font-weight:normal;font-style:normal;transform-origin:0 3.54px;transform:scaleY(1.06);">COX17</div><div class="t" style="left:304.20px;top:208.14px;font-size:7.05px;line-height:7.05px;font-weight:normal;font-style:normal;transform-origin:0 3.54px;transform:scaleY(1.06);">COX4I1</div><div class="t" style="left:304.20px;top:216.30px;font-size:7.05px;line-height:7.05px;font-weight:normal;font-style:normal;transform-origin:0 3.54px;transform:scaleY(1.06);">COX5A</div><div class="t" style="left:304.20px;top:224.45px;font-size:7.05px;line-height:7.05px;font-weight:normal;font-style:normal;transform-origin:0 3.54px;transform:scaleY(1.06);">COX5B</div><div class="t" style="left:304.20px;top:232.61px;font-size:7.05px;line-height:7.05px;font-weight:normal;font-style:normal;transform-origin:0 3.54px;transform:scaleY(1.06);">COX6A1</div><div class="t" style="left:304.20px;top:240.77px;font-size:7.05px;line-height:7.05px;font-weight:normal;font-style:normal;transform-origin:0 3.54px;transform:scaleY(1.06);">COX6B1</div><div class="t" style="left:304.20px;top:248.93px;font-size:7.05px;line-height:7.05px;font-weight:normal;font-style:normal;transform-origin:0 3.54px;transform:scaleY(1.06);">COX6C</div><div class="t" style="left:304.20px;top:257.08px;font-size:7.05px;line-height:7.05px;font-weight:normal;font-style:normal;transform-origin:0 3.54px;transform:scaleY(1.06);">COX7A2</div><div class="t" style="left:304.20px;top:265.24px;font-size:7.05px;line-height:7.05px;font-weight:normal;font-style:normal;transform-origin:0 3.54px;transform:scaleY(1.06);">COX7C</div><div class="t" style="left:304.20px;top:273.40px;font-size:7.05px;line-height:7.05px;font-weight:normal;font-style:normal;transform-origin:0 3.54px;transform:scaleY(1.06);">COX8A</div><div class="t" style="left:304.20px;top:281.55px;font-size:7.05px;line-height:7.05px;font-weight:normal;font-style:normal;transform-origin:0 3.54px;transform:scaleY(1.06);">CYC1</div><div class="t" style="left:304.20px;top:289.71px;font-size:7.05px;line-height:7.05px;font-weight:normal;font-style:normal;transform-origin:0 3.54px;transform:scaleY(1.06);">LHPP</div><div class="t" style="left:304.20px;top:297.87px;font-size:7.05px;line-height:7.05px;font-weight:normal;font-style:normal;transform-origin:0 3.54px;transform:scaleY(1.06);">NDUFA10</div><div class="t" style="left:304.20px;top:306.02px;font-size:7.05px;line-height:7.05px;font-weight:normal;font-style:normal;transform-origin:0 3.54px;transform:scaleY(1.06);">NDUFA11</div><div class="t" style="left:304.20px;top:314.18px;font-size:7.05px;line-height:7.05px;font-weight:normal;font-style:normal;transform-origin:0 3.54px;transform:scaleY(1.06);">NDUFA12</div><div class="t" style="left:304.20px;top:322.34px;font-size:7.05px;line-height:7.05px;font-weight:normal;font-style:normal;transform-origin:0 3.54px;transform:scaleY(1.06);">NDUFA13</div><div class="t" style="left:304.20px;top:330.50px;font-size:7.05px;line-height:7.05px;font-weight:normal;font-style:normal;transform-origin:0 3.54px;transform:scaleY(1.06);">NDUFA2</div><div class="t" style="left:304.20px;top:338.65px;font-size:7.05px;line-height:7.05px;font-weight:normal;font-style:normal;transform-origin:0 3.54px;transform:scaleY(1.06);">NDUFA3</div><div class="t" style="left:304.20px;top:346.81px;font-size:7.05px;line-height:7.05px;font-weight:normal;font-style:normal;transform-origin:0 3.54px;transform:scaleY(1.06);">NDUFA4</div><div class="t" style="left:304.20px;top:354.97px;font-size:7.05px;line-height:7.05px;font-weight:normal;font-style:normal;transform-origin:0 3.54px;transform:scaleY(1.06);">NDUFA5</div><div class="t" style="left:304.20px;top:363.12px;font-size:7.05px;line-height:7.05px;font-weight:normal;font-style:normal;transform-origin:0 3.54px;transform:scaleY(1.06);">NDUFA6</div><div class="t" style="left:304.20px;top:371.28px;font-size:7.05px;line-height:7.05px;font-weight:normal;font-style:normal;transform-origin:0 3.54px;transform:scaleY(1.06);">NDUFA7</div><div class="t" style="left:304.20px;top:379.44px;font-size:7.05px;line-height:7.05px;font-weight:normal;font-style:normal;transform-origin:0 3.54px;transform:scaleY(1.06);">NDUFA8</div><div class="t" style="left:304.20px;top:387.59px;font-size:7.05px;line-height:7.05px;font-weight:normal;font-style:normal;transform-origin:0 3.54px;transform:scaleY(1.06);">NDUFA9</div><div class="t" style="left:304.20px;top:395.75px;font-size:7.05px;line-height:7.05px;font-weight:normal;font-style:normal;transform-origin:0 3.54px;transform:scaleY(1.06);">NDUFAB1</div><div class="t" style="left:304.20px;top:403.91px;font-size:7.05px;line-height:7.05px;font-weight:normal;font-style:normal;transform-origin:0 3.54px;transform:scaleY(1.06);">NDUFB1</div><div class="t" style="left:304.20px;top:412.07px;font-size:7.05px;line-height:7.05px;font-weight:normal;font-style:normal;transform-origin:0 3.54px;transform:scaleY(1.06);">NDUFB10</div><div class="t" style="left:304.20px;top:420.22px;font-size:7.05px;line-height:7.05px;font-weight:normal;font-style:normal;transform-origin:0 3.54px;transform:scaleY(1.06);">NDUFB2</div><div class="t" style="left:304.20px;top:428.38px;font-size:7.05px;line-height:7.05px;font-weight:normal;font-style:normal;transform-origin:0 3.54px;transform:scaleY(1.06);">NDUFB3</div><div class="t" style="left:304.20px;top:436.54px;font-size:7.05px;line-height:7.05px;font-weight:normal;font-style:normal;transform-origin:0 3.54px;transform:scaleY(1.06);">NDUFB4</div><div class="t" style="left:304.20px;top:444.69px;font-size:7.05px;line-height:7.05px;font-weight:normal;font-style:normal;transform-origin:0 3.54px;transform:scaleY(1.06);">NDUFB5</div><div class="t" style="left:304.20px;top:452.85px;font-size:7.05px;line-height:7.05px;font-weight:normal;font-style:normal;transform-origin:0 3.54px;transform:scaleY(1.06);">NDUFB6</div><div class="t" style="left:304.20px;top:461.01px;font-size:7.05px;line-height:7.05px;font-weight:normal;font-style:normal;transform-origin:0 3.54px;transform:scaleY(1.06);">NDUFB7</div><div class="t" style="left:304.20px;top:469.16px;font-size:7.05px;line-height:7.05px;font-weight:normal;font-style:normal;transform-origin:0 3.54px;transform:scaleY(1.06);">NDUFB8</div><div class="t" style="left:304.20px;top:477.32px;font-size:7.05px;line-height:7.05px;font-weight:normal;font-style:normal;transform-origin:0 3.54px;transform:scaleY(1.06);">NDUFB9</div><div class="t" style="left:304.20px;top:485.48px;font-size:7.05px;line-height:7.05px;font-weight:normal;font-style:normal;transform-origin:0 3.54px;transform:scaleY(1.06);">NDUFC1</div><div class="t" style="left:304.20px;top:493.64px;font-size:7.05px;line-height:7.05px;font-weight:normal;font-style:normal;transform-origin:0 3.54px;transform:scaleY(1.06);">NDUFS1</div><div class="t" style="left:304.20px;top:501.79px;font-size:7.05px;line-height:7.05px;font-weight:normal;font-style:normal;transform-origin:0 3.54px;transform:scaleY(1.06);">NDUFS2</div><div class="t" style="left:304.20px;top:509.95px;font-size:7.05px;line-height:7.05px;font-weight:normal;font-style:normal;transform-origin:0 3.54px;transform:scaleY(1.06);">NDUFS3</div><div class="t" style="left:304.20px;top:518.11px;font-size:7.05px;line-height:7.05px;font-weight:normal;font-style:normal;transform-origin:0 3.54px;transform:scaleY(1.06);">NDUFS4</div><div class="t" style="left:304.20px;top:526.26px;font-size:7.05px;line-height:7.05px;font-weight:normal;font-style:normal;transform-origin:0 3.54px;transform:scaleY(1.06);">NDUFS6</div><div class="t" style="left:304.20px;top:534.42px;font-size:7.05px;line-height:7.05px;font-weight:normal;font-style:normal;transform-origin:0 3.54px;transform:scaleY(1.06);">NDUFS7</div><div class="t" style="left:304.20px;top:542.58px;font-size:7.05px;line-height:7.05px;font-weight:normal;font-style:normal;transform-origin:0 3.54px;transform:scaleY(1.06);">NDUFV1</div><div class="t" style="left:304.20px;top:550.73px;font-size:7.05px;line-height:7.05px;font-weight:normal;font-style:normal;transform-origin:0 3.54px;transform:scaleY(1.06);">NDUFV2</div><div class="t" style="left:304.20px;top:558.89px;font-size:7.05px;line-height:7.05px;font-weight:normal;font-style:normal;transform-origin:0 3.54px;transform:scaleY(1.06);">NDUFV3</div><div class="t" style="left:304.20px;top:567.05px;font-size:7.05px;line-height:7.05px;font-weight:normal;font-style:normal;transform-origin:0 3.54px;transform:scaleY(1.06);">PPA1</div><div class="t" style="left:304.20px;top:575.21px;font-size:7.05px;line-height:7.05px;font-weight:normal;font-style:normal;transform-origin:0 3.54px;transform:scaleY(1.06);">PPA2</div><div class="t" style="left:304.20px;top:583.36px;font-size:7.05px;line-height:7.05px;font-weight:normal;font-style:normal;transform-origin:0 3.54px;transform:scaleY(1.06);">SDHA</div><div class="t" style="left:304.20px;top:591.52px;font-size:7.05px;line-height:7.05px;font-weight:normal;font-style:normal;transform-origin:0 3.54px;transform:scaleY(1.06);">SDHB</div><div class="t" style="left:304.20px;top:599.68px;font-size:7.05px;line-height:7.05px;font-weight:normal;font-style:normal;transform-origin:0 3.54px;transform:scaleY(1.06);">SDHC</div><div class="t" style="left:304.20px;top:607.83px;font-size:7.05px;line-height:7.05px;font-weight:normal;font-style:normal;transform-origin:0 3.54px;transform:scaleY(1.06);">SDHD</div><div class="t" style="left:304.20px;top:615.99px;font-size:7.05px;line-height:7.05px;font-weight:normal;font-style:normal;transform-origin:0 3.54px;transform:scaleY(1.06);">TCIRG1</div><div class="t" style="left:304.20px;top:624.15px;font-size:7.05px;line-height:7.05px;font-weight:normal;font-style:normal;transform-origin:0 3.54px;transform:scaleY(1.06);">UQCRB</div><div class="t" style="left:304.20px;top:632.30px;font-size:7.05px;line-height:7.05px;font-weight:normal;font-style:normal;transform-origin:0 3.54px;transform:scaleY(1.06);">UQCRC1</div><div class="t" style="left:304.20px;top:640.46px;font-size:7.05px;line-height:7.05px;font-weight:normal;font-style:normal;transform-origin:0 3.54px;transform:scaleY(1.06);">UQCRC2</div><div class="t" style="left:304.20px;top:648.62px;font-size:7.05px;line-height:7.05px;font-weight:normal;font-style:normal;transform-origin:0 3.54px;transform:scaleY(1.06);">UQCRFS1</div><div class="t" style="left:304.20px;top:656.78px;font-size:7.05px;line-height:7.05px;font-weight:normal;font-style:normal;transform-origin:0 3.54px;transform:scaleY(1.06);">UQCRQ</div><div class="t" style="left:221.51px;top:49.60px;font-size:7.6px;line-height:7.6px;font-weight:normal;font-style:normal;transform-origin:0 0;transform:rotate(-90deg) scaleY(1.15);">LN</div><div class="t" style="left:247.82px;top:49.60px;font-size:7.4px;line-height:7.4px;font-weight:normal;font-style:normal;transform-origin:0 0;transform:rotate(-90deg) scaleY(1.15);">BCR-6h</div><div class="t" style="left:261.53px;top:49.60px;font-size:7.9px;line-height:7.9px;font-weight:normal;font-style:normal;transform-origin:0 0;transform:rotate(-90deg) scaleY(1.15);">CD40-48h</div><div class="t" style="left:276.93px;top:49.60px;font-size:7.9px;line-height:7.9px;font-weight:normal;font-style:normal;transform-origin:0 0;transform:rotate(-90deg) scaleY(1.15);">IBR-1M</div><div class="t" style="left:289.63px;top:49.60px;font-size:7.9px;line-height:7.9px;font-weight:normal;font-style:normal;transform-origin:0 0;transform:rotate(-90deg) scaleY(1.15);">IBR-6M</div><div class="t" style="left:204.86px;top:204.40px;font-size:9.4px;line-height:9.4px;font-weight:bold;font-style:italic;transform-origin:0 0;transform:rotate(-90deg) scaleY(1.12);color:#000-webkit-text-stroke:0;">OXPHOS</div><div class="t" style="left:176.00px;top:279.25px;font-size:7.5px;line-height:7.5px;font-weight:bold;font-style:normal;color:#000;-webkit-text-stroke-color:#000;-webkit-text-stroke:0;">log2FC</div><div class="t" style="left:198.40px;top:290.88px;font-size:7.4px;line-height:7.4px;font-weight:normal;font-style:normal;-webkit-text-stroke:0;color:#222">0.1</div><div class="t" style="left:198.40px;top:304.28px;font-size:7.4px;line-height:7.4px;font-weight:normal;font-style:normal;-webkit-text-stroke:0;color:#222">0.05</div><div class="t" style="left:198.40px;top:313.88px;font-size:7.4px;line-height:7.4px;font-weight:normal;font-style:normal;-webkit-text-stroke:0;color:#222">0</div><div class="t" style="left:195.10px;top:325.08px;font-size:7.4px;line-height:7.4px;font-weight:normal;font-style:normal;-webkit-text-stroke:0;color:#222">−0.05</div><div class="t" style="left:195.10px;top:336.88px;font-size:7.4px;line-height:7.4px;font-weight:normal;font-style:normal;-webkit-text-stroke:0;color:#222">−0.1</div><div class="t" style="left:466.20px;top:56.72px;font-size:7.2px;line-height:7.2px;font-weight:normal;font-style:normal;transform-origin:0 3.62px;transform:scaleY(1.08);">AIMP2</div><div class="t" style="left:466.20px;top:65.40px;font-size:7.2px;line-height:7.2px;font-weight:normal;font-style:normal;transform-origin:0 3.62px;transform:scaleY(1.08);">BYSL</div><div class="t" style="left:466.20px;top:74.08px;font-size:7.2px;line-height:7.2px;font-weight:normal;font-style:normal;transform-origin:0 3.62px;transform:scaleY(1.08);">CBX3</div><div class="t" style="left:466.20px;top:82.76px;font-size:7.2px;line-height:7.2px;font-weight:normal;font-style:normal;transform-origin:0 3.62px;transform:scaleY(1.08);">CDK4</div><div class="t" style="left:466.20px;top:91.44px;font-size:7.2px;line-height:7.2px;font-weight:normal;font-style:normal;transform-origin:0 3.62px;transform:scaleY(1.08);">DCTPP1</div><div class="t" style="left:466.20px;top:100.12px;font-size:7.2px;line-height:7.2px;font-weight:normal;font-style:normal;transform-origin:0 3.62px;transform:scaleY(1.08);">DDX18</div><div class="t" style="left:466.20px;top:108.80px;font-size:7.2px;line-height:7.2px;font-weight:normal;font-style:normal;transform-origin:0 3.62px;transform:scaleY(1.08);">DUSP2</div><div class="t" style="left:466.20px;top:117.48px;font-size:7.2px;line-height:7.2px;font-weight:normal;font-style:normal;transform-origin:0 3.62px;transform:scaleY(1.08);">EXOSC5</div><div class="t" style="left:466.20px;top:126.16px;font-size:7.2px;line-height:7.2px;font-weight:normal;font-style:normal;transform-origin:0 3.62px;transform:scaleY(1.08);">FARSA</div><div class="t" style="left:466.20px;top:134.84px;font-size:7.2px;line-height:7.2px;font-weight:normal;font-style:normal;transform-origin:0 3.62px;transform:scaleY(1.08);">GNL3</div><div class="t" style="left:466.20px;top:143.52px;font-size:7.2px;line-height:7.2px;font-weight:normal;font-style:normal;transform-origin:0 3.62px;transform:scaleY(1.08);">GRWD1</div><div class="t" style="left:466.20px;top:152.20px;font-size:7.2px;line-height:7.2px;font-weight:normal;font-style:normal;transform-origin:0 3.62px;transform:scaleY(1.08);">HK2</div><div class="t" style="left:466.20px;top:160.88px;font-size:7.2px;line-height:7.2px;font-weight:normal;font-style:normal;transform-origin:0 3.62px;transform:scaleY(1.08);">HSPD1</div><div class="t" style="left:466.20px;top:169.56px;font-size:7.2px;line-height:7.2px;font-weight:normal;font-style:normal;transform-origin:0 3.62px;transform:scaleY(1.08);">HSPE1</div><div class="t" style="left:466.20px;top:178.24px;font-size:7.2px;line-height:7.2px;font-weight:normal;font-style:normal;transform-origin:0 3.62px;transform:scaleY(1.08);">IMP4</div><div class="t" style="left:466.20px;top:186.92px;font-size:7.2px;line-height:7.2px;font-weight:normal;font-style:normal;transform-origin:0 3.62px;transform:scaleY(1.08);">IPO4</div><div class="t" style="left:466.20px;top:195.60px;font-size:7.2px;line-height:7.2px;font-weight:normal;font-style:normal;transform-origin:0 3.62px;transform:scaleY(1.08);">LDHA</div><div class="t" style="left:466.20px;top:204.28px;font-size:7.2px;line-height:7.2px;font-weight:normal;font-style:normal;transform-origin:0 3.62px;transform:scaleY(1.08);">MAP3K6</div><div class="t" style="left:466.20px;top:212.96px;font-size:7.2px;line-height:7.2px;font-weight:normal;font-style:normal;transform-origin:0 3.62px;transform:scaleY(1.08);">MCM4</div><div class="t" style="left:466.20px;top:221.64px;font-size:7.2px;line-height:7.2px;font-weight:normal;font-style:normal;transform-origin:0 3.62px;transform:scaleY(1.08);">MCM5</div><div class="t" style="left:466.20px;top:230.32px;font-size:7.2px;line-height:7.2px;font-weight:normal;font-style:normal;transform-origin:0 3.62px;transform:scaleY(1.08);">MPHOSPH10</div><div class="t" style="left:466.20px;top:239.00px;font-size:7.2px;line-height:7.2px;font-weight:normal;font-style:normal;transform-origin:0 3.62px;transform:scaleY(1.08);">MRTO4</div><div class="t" style="left:466.20px;top:247.68px;font-size:7.2px;line-height:7.2px;font-weight:normal;font-style:normal;transform-origin:0 3.62px;transform:scaleY(1.08);">MYBBP1A</div><div class="t" style="left:466.20px;top:256.36px;font-size:7.2px;line-height:7.2px;font-weight:normal;font-style:normal;transform-origin:0 3.62px;transform:scaleY(1.08);">MYC</div><div class="t" style="left:466.20px;top:265.04px;font-size:7.2px;line-height:7.2px;font-weight:normal;font-style:normal;transform-origin:0 3.62px;transform:scaleY(1.08);">NDUFAF4</div><div class="t" style="left:466.20px;top:273.72px;font-size:7.2px;line-height:7.2px;font-weight:normal;font-style:normal;transform-origin:0 3.62px;transform:scaleY(1.08);">NIP7</div><div class="t" style="left:466.20px;top:282.40px;font-size:7.2px;line-height:7.2px;font-weight:normal;font-style:normal;transform-origin:0 3.62px;transform:scaleY(1.08);">NOC4L</div><div class="t" style="left:466.20px;top:291.08px;font-size:7.2px;line-height:7.2px;font-weight:normal;font-style:normal;transform-origin:0 3.62px;transform:scaleY(1.08);">NOLC1</div><div class="t" style="left:466.20px;top:299.76px;font-size:7.2px;line-height:7.2px;font-weight:normal;font-style:normal;transform-origin:0 3.62px;transform:scaleY(1.08);">NOP16</div><div class="t" style="left:466.20px;top:308.44px;font-size:7.2px;line-height:7.2px;font-weight:normal;font-style:normal;transform-origin:0 3.62px;transform:scaleY(1.08);">NOP2</div><div class="t" style="left:466.20px;top:317.12px;font-size:7.2px;line-height:7.2px;font-weight:normal;font-style:normal;transform-origin:0 3.62px;transform:scaleY(1.08);">NPM1</div><div class="t" style="left:466.20px;top:325.80px;font-size:7.2px;line-height:7.2px;font-weight:normal;font-style:normal;transform-origin:0 3.62px;transform:scaleY(1.08);">ODC1</div><div class="t" style="left:466.20px;top:334.48px;font-size:7.2px;line-height:7.2px;font-weight:normal;font-style:normal;transform-origin:0 3.62px;transform:scaleY(1.08);">PA2G4</div><div class="t" style="left:466.20px;top:343.16px;font-size:7.2px;line-height:7.2px;font-weight:normal;font-style:normal;transform-origin:0 3.62px;transform:scaleY(1.08);">PES1</div><div class="t" style="left:466.20px;top:351.84px;font-size:7.2px;line-height:7.2px;font-weight:normal;font-style:normal;transform-origin:0 3.62px;transform:scaleY(1.08);">PHB</div><div class="t" style="left:466.20px;top:360.52px;font-size:7.2px;line-height:7.2px;font-weight:normal;font-style:normal;transform-origin:0 3.62px;transform:scaleY(1.08);">PLK1</div><div class="t" style="left:466.20px;top:369.20px;font-size:7.2px;line-height:7.2px;font-weight:normal;font-style:normal;transform-origin:0 3.62px;transform:scaleY(1.08);">PLK4</div><div class="t" style="left:466.20px;top:377.88px;font-size:7.2px;line-height:7.2px;font-weight:normal;font-style:normal;transform-origin:0 3.62px;transform:scaleY(1.08);">PPRC1</div><div class="t" style="left:466.20px;top:386.56px;font-size:7.2px;line-height:7.2px;font-weight:normal;font-style:normal;transform-origin:0 3.62px;transform:scaleY(1.08);">PRMT3</div><div class="t" style="left:466.20px;top:395.24px;font-size:7.2px;line-height:7.2px;font-weight:normal;font-style:normal;transform-origin:0 3.62px;transform:scaleY(1.08);">PUS1</div><div class="t" style="left:466.20px;top:403.92px;font-size:7.2px;line-height:7.2px;font-weight:normal;font-style:normal;transform-origin:0 3.62px;transform:scaleY(1.08);">RABEPK</div><div class="t" style="left:466.20px;top:412.60px;font-size:7.2px;line-height:7.2px;font-weight:normal;font-style:normal;transform-origin:0 3.62px;transform:scaleY(1.08);">RCL1</div><div class="t" style="left:466.20px;top:421.28px;font-size:7.2px;line-height:7.2px;font-weight:normal;font-style:normal;transform-origin:0 3.62px;transform:scaleY(1.08);">RRP12</div><div class="t" style="left:466.20px;top:429.96px;font-size:7.2px;line-height:7.2px;font-weight:normal;font-style:normal;transform-origin:0 3.62px;transform:scaleY(1.08);">RRP9</div><div class="t" style="left:466.20px;top:438.64px;font-size:7.2px;line-height:7.2px;font-weight:normal;font-style:normal;transform-origin:0 3.62px;transform:scaleY(1.08);">SLC19A1</div><div class="t" style="left:466.20px;top:447.32px;font-size:7.2px;line-height:7.2px;font-weight:normal;font-style:normal;transform-origin:0 3.62px;transform:scaleY(1.08);">SLC29A2</div><div class="t" style="left:466.20px;top:456.00px;font-size:7.2px;line-height:7.2px;font-weight:normal;font-style:normal;transform-origin:0 3.62px;transform:scaleY(1.08);">SORD</div><div class="t" style="left:466.20px;top:464.68px;font-size:7.2px;line-height:7.2px;font-weight:normal;font-style:normal;transform-origin:0 3.62px;transform:scaleY(1.08);">SRM</div><div class="t" style="left:466.20px;top:473.36px;font-size:7.2px;line-height:7.2px;font-weight:normal;font-style:normal;transform-origin:0 3.62px;transform:scaleY(1.08);">SUPV3L1</div><div class="t" style="left:466.20px;top:482.04px;font-size:7.2px;line-height:7.2px;font-weight:normal;font-style:normal;transform-origin:0 3.62px;transform:scaleY(1.08);">TBRG4</div><div class="t" style="left:466.20px;top:490.72px;font-size:7.2px;line-height:7.2px;font-weight:normal;font-style:normal;transform-origin:0 3.62px;transform:scaleY(1.08);">TCOF1</div><div class="t" style="left:466.20px;top:499.40px;font-size:7.2px;line-height:7.2px;font-weight:normal;font-style:normal;transform-origin:0 3.62px;transform:scaleY(1.08);">TFB2M</div><div class="t" style="left:466.20px;top:508.08px;font-size:7.2px;line-height:7.2px;font-weight:normal;font-style:normal;transform-origin:0 3.62px;transform:scaleY(1.08);">TMEM97</div><div class="t" style="left:466.20px;top:516.76px;font-size:7.2px;line-height:7.2px;font-weight:normal;font-style:normal;transform-origin:0 3.62px;transform:scaleY(1.08);">UNG</div><div class="t" style="left:466.20px;top:525.44px;font-size:7.2px;line-height:7.2px;font-weight:normal;font-style:normal;transform-origin:0 3.62px;transform:scaleY(1.08);">UTP20</div><div class="t" style="left:466.20px;top:534.12px;font-size:7.2px;line-height:7.2px;font-weight:normal;font-style:normal;transform-origin:0 3.62px;transform:scaleY(1.08);">WDR43</div><div class="t" style="left:466.20px;top:542.80px;font-size:7.2px;line-height:7.2px;font-weight:normal;font-style:normal;transform-origin:0 3.62px;transform:scaleY(1.08);">WDR74</div><div class="t" style="left:392.51px;top:52.00px;font-size:7.6px;line-height:7.6px;font-weight:normal;font-style:normal;transform-origin:0 0;transform:rotate(-90deg) scaleY(1.15);">LN</div><div class="t" style="left:417.32px;top:52.00px;font-size:7.4px;line-height:7.4px;font-weight:normal;font-style:normal;transform-origin:0 0;transform:rotate(-90deg) scaleY(1.15);">BCR-6h</div><div class="t" style="left:430.63px;top:52.00px;font-size:7.9px;line-height:7.9px;font-weight:normal;font-style:normal;transform-origin:0 0;transform:rotate(-90deg) scaleY(1.15);">CD40-48h</div><div class="t" style="left:442.73px;top:52.00px;font-size:7.9px;line-height:7.9px;font-weight:normal;font-style:normal;transform-origin:0 0;transform:rotate(-90deg) scaleY(1.15);">IBR-1M</div><div class="t" style="left:452.93px;top:52.00px;font-size:7.9px;line-height:7.9px;font-weight:normal;font-style:normal;transform-origin:0 0;transform:rotate(-90deg) scaleY(1.15);">IBR-6M</div><div class="t" style="left:376.48px;top:244.40px;font-size:9.4px;line-height:9.4px;font-weight:bold;font-style:italic;transform-origin:0 0;transform:rotate(-90deg) scaleY(1.0);color:#000-webkit-text-stroke:0;">Myc targets</div><div class="t" style="left:356.50px;top:274.08px;font-size:7.35px;line-height:7.35px;font-weight:bold;font-style:normal;color:#000;-webkit-text-stroke-color:#000;-webkit-text-stroke:0;">log2FC</div><div class="t" style="left:372.90px;top:283.48px;font-size:7.4px;line-height:7.4px;font-weight:normal;font-style:normal;-webkit-text-stroke:0;color:#222">0.6</div><div class="t" style="left:372.90px;top:296.38px;font-size:7.4px;line-height:7.4px;font-weight:normal;font-style:normal;-webkit-text-stroke:0;color:#222">0.4</div><div class="t" style="left:372.90px;top:308.58px;font-size:7.4px;line-height:7.4px;font-weight:normal;font-style:normal;-webkit-text-stroke:0;color:#222">0.2</div><div class="t" style="left:374.00px;top:320.68px;font-size:7.4px;line-height:7.4px;font-weight:normal;font-style:normal;-webkit-text-stroke:0;color:#222">0</div><div class="t" style="left:370.20px;top:333.68px;font-size:7.4px;line-height:7.4px;font-weight:normal;font-style:normal;-webkit-text-stroke:0;color:#222">−0.2</div><div class="t" style="left:347.00px;width:200px;top:573.54px;font-size:7.4px;line-height:7.4px;font-weight:bold;font-style:normal;text-align:center;color:#000;-webkit-text-stroke-color:#000;-webkit-text-stroke:0;">log2FC of all</div><div class="t" style="left:347.00px;width:200px;top:582.94px;font-size:7.4px;line-height:7.4px;font-weight:bold;font-style:normal;text-align:center;color:#000;-webkit-text-stroke-color:#000;-webkit-text-stroke:0;">RNAseq datasets</div><div class="t" style="left:459.50px;top:601.08px;font-size:7.4px;line-height:7.4px;font-weight:normal;font-style:normal;-webkit-text-stroke:0;color:#222">3</div><div class="t" style="left:459.50px;top:615.78px;font-size:7.4px;line-height:7.4px;font-weight:normal;font-style:normal;-webkit-text-stroke:0;color:#222">2</div><div class="t" style="left:459.50px;top:630.78px;font-size:7.4px;line-height:7.4px;font-weight:normal;font-style:normal;-webkit-text-stroke:0;color:#222">1</div><div class="t" style="left:459.50px;top:646.18px;font-size:7.4px;line-height:7.4px;font-weight:normal;font-style:normal;-webkit-text-stroke:0;color:#222">0</div><div class="t" style="left:456.00px;top:660.88px;font-size:7.4px;line-height:7.4px;font-weight:normal;font-style:normal;-webkit-text-stroke:0;color:#222">−1</div></div>
<div id="frame"></div>
</body></html>
